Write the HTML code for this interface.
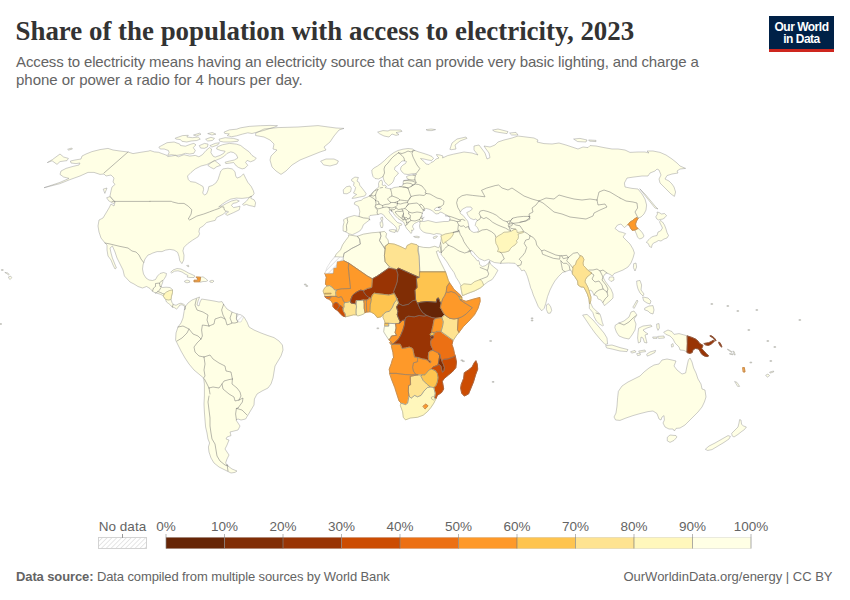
<!DOCTYPE html>
<html><head><meta charset="utf-8"><title>Share of the population with access to electricity, 2023</title>
<style>
html,body{margin:0;padding:0;background:#fff;}
body{width:850px;height:600px;position:relative;overflow:hidden;font-family:"Liberation Sans",sans-serif;}
#title{position:absolute;left:15.5px;top:15px;font-family:"Liberation Serif",serif;font-weight:bold;font-size:26.9px;line-height:32px;color:#333;white-space:nowrap;transform-origin:0 50%;}
.sub{position:absolute;left:16px;font-size:15px;line-height:19px;color:#646464;white-space:nowrap;transform-origin:0 50%;}
#logo{position:absolute;left:769px;top:16px;width:65px;height:33px;background:#002147;border-bottom:3px solid #ce261e;color:#fff;font-weight:bold;font-size:12px;line-height:12px;text-align:center;letter-spacing:-0.5px;}
#logo div{position:absolute;left:0;width:65px;}
.lg{position:absolute;font-size:13.5px;color:#646464;white-space:nowrap;top:518.5px;line-height:16px;transform:translateX(-50%);}
#foot1{position:absolute;left:16px;top:569px;font-size:13px;letter-spacing:-0.11px;line-height:16px;color:#646464;white-space:nowrap;}
#foot2{position:absolute;right:17.5px;top:569px;font-size:13px;line-height:16px;color:#646464;white-space:nowrap;}
svg{position:absolute;left:0;top:0;}
</style></head><body>
<div id="title">Share of the population with access to electricity, 2023</div>
<div class="sub" id="s1" style="top:52px;letter-spacing:-0.125px">Access to electricity means having an electricity source that can provide very basic lighting, and charge a</div>
<div class="sub" id="s2" style="top:70px;letter-spacing:-0.02px">phone or power a radio for 4 hours per day.</div>
<div id="logo"><div style="top:5px">Our World</div><div style="top:17px">in Data</div></div>
<svg width="850" height="600" viewBox="0 0 850 600">
<defs><pattern id="hatch" width="3.4" height="3.4" patternUnits="userSpaceOnUse" patternTransform="rotate(45)"><rect width="3.4" height="3.4" fill="#fff"/><line x1="0" y1="0" x2="0" y2="3.4" stroke="#dcdcdc" stroke-width="1.4"/></pattern></defs>
<g stroke-linejoin="round" stroke-linecap="round">
<path fill="#ffffe5" stroke="#8f8f8f" stroke-width="0.45" d="M44.4 187.6 L60.0 182.4 L69.0 178.4 L63.6 177.0 L60.0 174.4 L61.0 171.0 L66.0 168.4 L73.0 166.4 L79.0 165.0 L80.0 163.0 L76.0 163.6 L71.0 163.0 L70.4 161.0 L75.0 160.0 L81.0 159.0 L82.0 156.0 L86.0 154.0 L92.0 151.6 L100.0 149.6 L108.0 148.4 L113.0 150.0 L120.0 151.0 L128.0 152.0 L133.0 153.6 L140.0 152.4 L149.0 151.0 L150.0 150.5 L154.3 151.9 L158.5 152.3 L167.0 155.4 L167.7 156.6 L175.5 155.4 L178.3 156.8 L184.0 154.7 L189.7 156.1 L195.3 155.4 L198.9 156.8 L202.4 154.7 L206.0 150.5 L209.5 147.6 L211.6 149.0 L210.9 152.6 L213.0 156.1 L215.2 157.1 L220.1 155.4 L223.7 153.3 L225.1 151.2 L220.8 150.5 L216.6 149.0 L217.3 146.9 L222.3 144.8 L229.3 143.4 L236.4 144.1 L240.7 145.5 L244.2 148.3 L249.2 151.9 L252.0 155.4 L256.3 158.3 L254.1 160.4 L250.6 161.8 L247.1 160.4 L245.6 162.5 L247.8 165.3 L244.9 168.2 L242.1 168.9 L238.6 167.5 L236.4 166.0 L233.6 162.5 L229.3 163.2 L225.8 163.6 L225.1 162.2 L229.3 161.1 L234.3 160.0 L237.8 158.0 L236.4 154.7 L233.6 152.6 L230.8 151.9 L227.2 153.3 L224.4 156.1 L220.8 158.3 L216.6 160.0 L214.0 161.1 L210.9 162.5 L206.7 164.6 L201.0 166.0 L195.3 168.9 L191.1 172.4 L187.5 176.0 L188.3 179.5 L190.4 181.6 L195.3 182.3 L199.6 184.5 L203.1 186.6 L203.6 189.4 L202.7 193.0 L204.5 195.1 L206.7 193.7 L208.1 190.1 L208.8 186.6 L212.3 185.5 L215.9 183.0 L218.0 179.5 L219.4 175.3 L220.8 171.0 L223.0 168.9 L227.9 168.2 L232.2 168.9 L235.0 171.7 L235.7 176.0 L237.1 178.1 L240.7 176.7 L243.5 173.8 L245.6 178.1 L247.8 182.3 L251.3 186.6 L253.4 190.8 L254.1 193.7 L252.0 196.3 L247.8 197.7 L242.1 198.4 L236.4 198.1 L230.8 199.1 L226.5 201.3 L222.3 204.1 L218.7 206.9 L222.3 205.8 L226.5 203.4 L231.5 201.0 L236.4 199.8 L239.3 201.0 L236.4 202.7 L232.9 203.4 L231.5 205.5 L233.6 207.6 L237.1 206.9 L240.0 206.2 L239.3 209.8 L233.6 212.6 L227.2 215.4 L225.4 214.0 L228.6 211.9 L226.5 210.9 L223.7 214.0 L216.6 217.5 L215.2 220.4 L210.9 221.4 L206.7 222.5 L203.1 226.0 L199.6 228.2 L198.9 231.7 L199.6 233.8 L198.2 236.7 L192.5 240.2 L187.5 243.8 L184.0 247.3 L182.9 250.8 L184.0 255.1 L183.7 260.1 L181.9 263.6 L179.8 260.8 L179.0 256.5 L177.6 252.3 L174.1 250.1 L169.8 249.4 L165.6 250.1 L162.0 251.6 L157.1 251.6 L152.8 253.0 L150.0 254.4 L148.0 255.0 L145.0 259.0 L143.6 263.0 L143.0 265.0 L142.5 269.0 L143.5 274.0 L146.0 278.0 L149.0 280.0 L152.5 280.5 L155.5 279.5 L157.5 276.0 L160.0 273.5 L163.5 272.5 L166.5 273.5 L166.0 276.0 L164.5 278.5 L163.0 280.5 L162.5 283.0 L161.0 286.5 L162.5 287.5 L166.0 287.2 L170.0 287.5 L172.5 289.5 L172.5 292.5 L171.5 296.0 L171.0 299.5 L172.0 302.5 L173.5 304.5 L176.0 305.3 L178.7 303.8 L181.0 303.2 L183.7 304.3 L185.7 306.0 L184.5 310.0 L185.5 308.5 L184.5 306.2 L182.0 304.7 L179.7 305.2 L178.2 307.5 L176.5 309.0 L174.5 307.7 L172.0 307.0 L170.5 305.0 L168.5 303.5 L166.5 302.0 L165.5 299.5 L163.5 296.0 L161.0 294.5 L158.0 293.5 L155.0 292.8 L152.5 291.2 L150.0 288.5 L146.5 286.5 L142.5 288.0 L138.0 286.5 L134.0 284.0 L130.0 282.0 L124.4 276.0 L123.0 270.0 L120.0 264.0 L117.0 258.0 L115.0 252.0 L112.4 246.0 L110.0 248.0 L111.0 253.0 L112.4 258.0 L114.4 263.0 L116.4 268.0 L115.0 269.0 L113.0 265.0 L111.0 260.0 L108.0 256.0 L107.0 250.0 L107.0 245.0 L105.0 243.0 L101.0 238.0 L99.0 232.0 L98.0 226.0 L99.0 220.0 L103.0 218.0 L106.0 213.0 L109.0 208.0 L111.0 204.0 L114.0 206.0 L115.0 202.0 L112.0 199.0 L110.0 196.0 L111.0 191.0 L112.0 187.0 L115.0 184.4 L113.0 182.0 L114.0 178.0 L111.0 175.0 L106.0 176.0 L104.0 174.0 L100.0 174.4 L94.0 172.4 L88.0 172.4 L80.0 176.0 L70.0 179.6 L60.0 183.6 Z M159.2 146.9 L167.0 142.7 L174.1 142.0 L179.8 144.1 L180.5 145.5 L185.4 146.2 L191.1 144.1 L193.9 143.4 L196.0 144.8 L193.2 147.6 L195.3 150.5 L193.9 153.3 L189.7 154.0 L185.4 153.3 L181.2 154.7 L176.9 155.4 L171.3 154.7 L167.7 155.4 L169.1 152.6 L168.4 150.5 L164.2 149.0 L160.6 149.0 Z M175.5 138.1 L182.6 135.6 L188.3 135.3 L186.8 137.0 L192.5 137.7 L198.2 137.0 L200.3 139.1 L196.8 140.5 L191.1 141.0 L186.8 142.0 L181.9 141.3 L180.5 139.6 L176.2 139.1 Z M193.9 134.9 L199.6 133.2 L201.0 134.2 L196.8 135.9 Z M206.0 139.1 L210.9 137.3 L214.5 138.4 L212.3 140.5 L208.1 141.0 Z M208.1 133.5 L212.3 132.5 L215.9 134.2 L212.3 134.9 Z M199.6 145.5 L204.5 143.4 L208.1 144.1 L207.4 146.9 L204.5 148.3 L201.0 148.1 Z M210.2 145.5 L215.2 143.4 L219.4 142.7 L218.0 144.8 L212.3 146.9 Z M219.4 139.1 L225.1 137.7 L233.6 138.4 L238.6 139.8 L237.8 141.3 L230.8 142.0 L223.7 142.0 L220.1 141.3 Z M224.4 132.0 L229.3 129.9 L236.4 129.2 L240.7 127.8 L249.2 126.4 L260.5 125.7 L270.0 125.4 L277.5 125.7 L274.7 127.1 L270.0 128.5 L263.3 130.6 L257.7 132.0 L252.0 133.5 L247.8 132.8 L242.1 134.2 L236.4 135.9 L231.5 136.7 L227.2 135.6 L229.3 133.9 L225.1 133.5 Z M208.1 165.1 L212.3 161.8 L214.5 160.4 L217.3 162.5 L220.6 165.3 L216.6 166.8 L213.8 168.9 L210.9 167.5 Z M47.6 162.4 L52.4 159.6 L60.0 154.0 L63.6 157.0 L68.4 158.4 L67.0 160.6 L60.0 161.6 L57.0 164.4 L52.4 161.0 Z M68.0 149.2 L71.6 148.0 L72.4 149.0 L69.0 150.0 Z M103.6 189.0 L107.0 188.0 L105.0 193.0 Z M107.0 197.6 L110.0 196.6 L115.0 201.6 L113.6 203.6 L109.0 201.0 Z M256.0 133.0 L264.0 129.0 L278.0 127.6 L298.0 127.0 L318.0 125.6 L336.0 128.0 L344.0 128.4 L339.0 130.0 L334.0 136.0 L330.0 142.0 L324.0 147.0 L326.0 150.0 L320.0 152.0 L310.0 156.0 L300.0 160.0 L292.0 165.0 L286.0 171.0 L281.0 174.4 L276.0 171.0 L272.0 167.0 L270.0 160.0 L271.0 156.0 L274.0 153.0 L277.0 150.0 L273.0 149.0 L274.0 144.0 L270.0 140.0 L264.0 137.0 L256.0 135.6 Z M321.0 161.0 L326.0 159.0 L334.0 159.0 L338.4 161.0 L337.0 164.0 L330.0 166.0 L324.0 165.0 Z M242.8 204.1 L246.3 201.3 L249.2 197.7 L251.3 195.9 L250.9 198.4 L254.1 199.8 L255.6 202.7 L254.8 206.9 L252.7 206.2 L249.2 205.5 L246.3 204.4 L244.2 205.2 Z M171.0 272.0 L173.0 270.0 L177.0 268.5 L181.0 269.0 L185.0 271.0 L188.5 273.0 L192.0 274.5 L195.0 276.0 L194.0 277.5 L190.0 277.5 L187.0 277.0 L188.0 275.5 L185.0 274.0 L182.0 272.0 L178.0 270.8 L174.5 271.2 L172.0 272.8 Z M200.5 277.2 L203.0 276.8 L205.5 278.5 L207.8 280.5 L206.0 281.5 L203.0 281.5 L200.5 282.2 L199.7 281.8 L200.2 279.5 Z M184.8 281.0 L187.0 280.0 L189.5 280.8 L189.8 282.2 L187.0 282.8 L185.2 282.2 Z M210.0 281.0 L212.0 280.2 L214.0 281.0 L212.5 282.5 L210.5 282.2 Z M187.0 265.5 L188.5 265.2 L188.8 266.8 L187.8 266.5 Z M185.0 307.0 L188.0 303.0 L192.0 300.0 L197.0 298.0 L199.6 297.0 L198.0 301.0 L197.0 305.0 L199.0 306.0 L200.0 302.0 L201.6 299.0 L208.0 300.0 L214.0 301.0 L219.0 302.0 L222.0 301.6 L224.0 305.0 L227.0 309.0 L232.0 312.0 L237.0 314.0 L241.0 315.0 L244.0 317.0 L247.0 322.0 L249.0 327.0 L254.0 330.0 L261.0 333.0 L268.0 335.6 L274.0 337.6 L279.0 341.0 L282.4 345.0 L283.0 350.0 L281.0 356.0 L278.0 361.0 L275.0 366.0 L274.0 372.0 L273.0 378.0 L271.0 384.0 L268.0 388.0 L262.0 391.0 L257.0 394.0 L254.4 399.0 L254.0 405.0 L251.0 410.0 L248.0 415.0 L245.6 419.0 L241.0 420.0 L238.0 419.0 L236.0 420.0 L238.0 423.0 L240.0 426.0 L238.0 430.0 L234.0 431.0 L230.0 432.0 L231.0 435.6 L227.0 437.0 L226.0 439.0 L229.0 440.0 L227.0 445.0 L225.0 449.0 L227.0 452.0 L229.0 455.0 L227.0 459.0 L225.6 463.0 L228.0 466.0 L232.0 469.0 L237.0 471.0 L235.0 472.4 L231.0 473.0 L225.0 470.0 L219.0 467.0 L214.0 463.0 L211.0 458.0 L209.0 452.0 L208.4 447.0 L209.6 443.0 L208.0 439.0 L207.0 433.0 L205.6 427.0 L205.0 420.0 L204.4 412.0 L204.0 404.0 L204.4 396.0 L204.4 384.0 L203.6 378.0 L200.0 375.0 L194.0 370.0 L189.0 364.0 L185.0 358.0 L181.0 351.0 L178.0 345.0 L175.6 340.0 L176.0 333.0 L178.0 327.0 L181.0 323.0 L183.0 318.0 L184.0 312.0 Z M352.0 234.6 L349.2 233.9 L345.7 231.8 L343.1 231.0 L343.1 226.1 L344.0 222.5 L343.5 219.7 L347.1 217.6 L354.2 215.5 L359.1 216.5 L359.8 211.2 L358.4 206.3 L354.2 204.1 L354.9 202.0 L358.4 200.9 L361.3 200.3 L363.4 198.5 L367.6 197.0 L369.8 195.6 L373.3 191.7 L375.0 190.0 L377.5 188.0 L378.8 187.0 L378.5 183.5 L379.5 181.0 L381.5 180.0 L382.5 182.0 L382.2 185.0 L383.5 185.5 L385.0 185.0 L386.5 186.5 L385.0 187.5 L388.5 188.5 L391.0 189.0 L394.0 187.5 L398.0 187.0 L401.5 186.5 L403.5 184.0 L403.0 182.0 L404.0 180.5 L406.5 180.0 L409.0 179.5 L407.0 178.5 L406.5 176.5 L409.0 175.5 L413.0 175.0 L416.5 174.5 L416.0 173.5 L412.0 173.8 L408.0 174.5 L404.5 174.0 L402.0 172.0 L400.5 169.5 L401.0 167.0 L403.0 165.0 L405.5 163.5 L406.5 161.5 L404.5 160.8 L402.0 161.0 L400.0 163.0 L397.5 165.5 L395.0 167.0 L394.5 169.5 L396.0 171.0 L398.5 173.0 L397.0 175.0 L394.5 177.5 L394.0 179.5 L393.0 182.0 L391.0 184.0 L388.5 185.5 L386.5 184.0 L384.5 181.5 L383.5 179.0 L383.0 176.5 L381.5 177.5 L378.5 179.0 L375.0 178.5 L373.0 176.5 L372.0 173.0 L371.8 170.0 L374.0 168.0 L377.5 166.0 L381.0 163.5 L384.5 160.5 L387.5 157.5 L390.5 155.0 L394.0 152.5 L398.0 150.5 L403.0 149.2 L408.0 148.5 L412.5 149.0 L414.8 150.5 L419.0 152.0 L424.0 153.5 L428.5 155.0 L432.0 156.5 L433.5 158.5 L431.5 160.5 L428.0 160.0 L424.0 159.0 L420.5 158.5 L422.0 160.0 L424.0 161.5 L426.0 164.0 L429.0 164.5 L431.0 162.5 L433.5 161.5 L436.0 159.0 L439.0 158.0 L437.0 156.0 L436.5 154.5 L440.0 155.0 L443.0 156.0 L442.5 158.0 L447.7 155.6 L453.3 154.2 L464.0 152.0 L472.0 153.0 L478.0 155.0 L474.0 150.0 L474.0 146.0 L479.0 145.0 L482.0 149.0 L485.0 153.0 L487.0 159.0 L490.0 157.6 L489.0 153.0 L486.0 149.0 L484.0 146.0 L490.0 147.0 L495.0 145.0 L498.0 142.0 L504.0 140.0 L512.0 138.0 L518.0 136.0 L526.0 137.0 L534.0 138.0 L538.0 140.0 L537.0 142.0 L544.0 143.6 L552.0 144.0 L559.0 143.0 L566.0 145.0 L572.0 147.0 L578.0 149.0 L583.0 147.0 L588.0 147.6 L590.0 145.6 L596.0 146.0 L604.0 147.6 L612.0 149.0 L618.0 149.0 L625.0 150.0 L630.0 152.4 L638.0 152.0 L645.0 152.0 L649.0 153.0 L647.0 151.0 L653.0 151.0 L660.0 152.4 L666.0 155.0 L672.0 159.0 L677.0 163.0 L680.0 166.0 L685.6 168.4 L680.0 169.0 L677.0 171.0 L678.0 173.0 L672.0 174.0 L667.0 175.6 L665.0 179.0 L669.0 181.0 L672.0 184.0 L674.0 187.0 L675.6 192.0 L674.4 196.4 L671.0 194.0 L667.0 190.0 L663.0 186.0 L660.0 183.0 L659.0 179.0 L661.0 175.0 L659.0 170.0 L657.0 169.0 L655.0 171.0 L650.0 173.0 L648.0 176.0 L642.0 176.0 L634.0 177.0 L627.0 178.0 L624.4 183.0 L625.0 187.0 L632.0 188.4 L638.0 189.0 L642.0 194.0 L645.0 199.0 L646.6 205.0 L646.0 210.0 L644.0 214.0 L641.0 217.0 L638.0 218.0 L638.0 218.5 L636.5 221.0 L635.5 224.0 L636.0 226.5 L638.0 228.5 L640.0 230.0 L642.5 233.0 L644.0 236.0 L642.5 238.0 L639.5 239.0 L637.5 237.0 L636.5 234.0 L635.5 232.0 L635.0 230.0 L632.0 230.2 L630.5 228.0 L629.5 225.5 L628.0 224.5 L624.4 227.6 L621.0 224.0 L617.6 225.0 L615.0 228.4 L619.0 231.6 L622.4 232.4 L625.6 233.6 L623.0 237.0 L626.0 240.0 L630.0 244.0 L633.0 249.0 L634.4 253.0 L633.0 258.0 L631.0 263.0 L628.0 267.0 L623.0 270.0 L618.0 272.0 L614.0 273.6 L612.4 276.0 L610.0 274.4 L607.0 273.0 L605.0 274.0 L603.0 277.0 L605.0 281.0 L608.0 285.0 L611.0 289.0 L613.0 294.0 L613.0 298.0 L610.0 301.0 L606.4 304.0 L604.4 305.6 L603.0 303.0 L601.0 300.0 L598.0 299.0 L597.0 296.0 L594.0 295.0 L592.0 291.0 L590.0 290.0 L588.0 292.0 L588.4 296.0 L590.7 303.3 L592.8 307.5 L596.3 311.1 L599.9 313.9 L601.3 318.2 L602.3 322.4 L603.4 325.3 L602.7 326.0 L599.2 323.8 L596.3 321.0 L594.2 316.8 L592.8 312.5 L589.3 308.3 L589.4 304.0 L589.0 299.0 L587.4 294.0 L585.4 290.0 L583.6 287.0 L581.0 287.0 L578.0 285.0 L577.6 281.0 L575.0 277.0 L572.4 273.6 L570.8 270.0 L570.0 270.0 L567.5 270.8 L565.0 271.7 L562.5 272.5 L558.3 276.7 L555.0 280.8 L552.5 285.0 L550.0 290.0 L547.5 296.7 L545.8 303.3 L544.2 308.3 L541.7 310.8 L538.3 306.7 L535.8 300.8 L533.3 295.0 L531.7 290.0 L530.8 288.3 L529.2 282.5 L527.5 276.7 L525.8 272.5 L524.2 270.0 L521.7 270.8 L520.0 268.3 L517.5 265.8 L515.0 263.3 L508.3 263.0 L500.8 263.3 L494.3 262.5 L490.1 260.4 L488.7 259.4 L484.4 260.8 L479.5 258.7 L475.9 255.2 L473.1 251.6 L471.0 250.5 L470.3 251.9 L471.7 254.5 L474.5 257.3 L477.3 260.8 L478.5 260.4 L479.5 262.5 L479.5 264.4 L482.3 266.5 L485.1 265.8 L488.0 263.7 L489.8 261.6 L490.4 264.0 L493.6 266.8 L497.9 270.3 L495.1 275.3 L492.2 279.5 L488.0 281.7 L484.4 284.5 L483.7 285.2 L480.2 288.0 L474.5 290.9 L468.8 293.0 L462.5 295.6 L461.5 290.9 L461.0 285.9 L458.9 281.7 L456.1 277.4 L454.0 272.5 L450.4 267.5 L446.9 261.8 L443.3 256.9 L441.2 254.8 L441.2 252.6 L440.2 249.8 L439.1 247.4 L439.0 248.0 L439.5 246.0 L440.5 243.0 L441.0 240.0 L441.5 237.0 L442.0 235.0 L440.0 234.0 L436.5 233.5 L434.0 234.5 L430.0 233.5 L426.0 233.0 L423.5 232.0 L421.5 230.5 L420.0 228.5 L419.5 226.0 L420.0 223.5 L419.5 222.5 L421.0 221.5 L418.5 221.5 L416.5 222.5 L414.5 223.5 L413.0 225.0 L412.5 227.0 L414.0 229.0 L413.0 230.5 L411.5 230.0 L412.0 232.0 L411.0 233.5 L409.0 231.0 L407.0 229.0 L405.5 226.5 L404.5 224.0 L403.5 222.0 L401.0 220.5 L398.0 218.5 L395.5 216.0 L393.5 213.5 L392.5 211.5 L391.5 210.5 L390.0 210.0 L389.0 211.5 L390.0 213.5 L391.5 215.5 L393.5 218.0 L395.5 220.5 L397.5 222.5 L399.5 223.2 L401.2 223.5 L402.0 224.8 L400.5 225.5 L399.0 226.0 L399.5 228.0 L398.5 230.0 L397.5 232.0 L396.2 231.5 L396.8 229.0 L395.8 226.8 L393.5 224.5 L390.5 222.0 L387.5 219.5 L385.0 217.0 L383.5 214.8 L381.0 213.5 L378.0 214.5 L374.0 215.0 L370.0 215.5 L369.0 216.9 L369.8 219.7 L366.2 222.5 L363.4 224.7 L362.0 228.2 L359.8 231.0 L355.6 233.2 Z M352.0 179.0 L354.9 177.1 L358.4 177.5 L357.0 181.1 L359.1 182.5 L359.8 185.3 L362.7 188.9 L364.8 191.7 L366.2 193.8 L364.8 196.0 L359.8 197.0 L354.9 198.1 L352.0 198.4 L354.2 196.0 L356.7 194.5 L353.5 193.1 L354.9 190.3 L355.6 187.5 L353.5 185.3 L354.2 182.5 L352.0 181.1 Z M343.5 189.6 L346.4 186.8 L349.9 186.0 L351.3 188.2 L350.6 191.7 L347.1 193.8 L344.0 193.6 Z M389.5 230.0 L392.5 229.5 L396.0 230.0 L395.0 232.5 L392.5 232.0 L390.0 231.2 Z M380.5 222.0 L382.5 221.5 L383.0 225.0 L382.5 227.5 L381.0 227.5 L380.3 225.0 Z M381.2 217.5 L382.5 217.0 L382.8 220.0 L381.8 221.0 L381.0 219.5 Z M414.0 236.5 L417.0 236.2 L419.5 236.8 L419.0 237.8 L415.5 237.5 Z M433.5 237.0 L436.0 236.0 L437.5 236.2 L436.0 238.0 L434.0 238.5 Z M450.0 149.0 L452.0 143.0 L457.0 139.0 L466.0 137.0 L467.0 138.4 L460.0 141.0 L455.0 145.0 L456.0 149.0 L452.0 149.6 Z M493.0 130.0 L498.0 129.0 L508.0 131.6 L507.0 133.6 L499.0 132.4 L495.0 131.6 Z M510.0 133.0 L516.0 132.4 L518.0 135.0 L512.0 135.0 Z M574.0 139.0 L580.0 138.4 L587.0 140.0 L586.0 142.0 L578.0 141.6 Z M589.0 140.0 L596.0 140.4 L596.0 141.6 L590.0 141.2 Z M640.0 189.0 L645.0 194.0 L650.0 200.0 L655.0 206.0 L658.0 209.0 L655.0 208.0 L651.0 203.0 L647.0 198.0 L643.0 193.0 Z M656.0 216.5 L657.5 214.0 L657.0 212.0 L659.0 212.5 L661.5 214.0 L664.5 213.5 L666.5 215.5 L665.0 217.5 L663.0 219.0 L660.0 219.5 L658.5 220.0 L657.0 219.0 Z M646.5 242.0 L649.0 239.5 L651.5 237.0 L654.5 236.0 L657.0 235.5 L658.0 232.0 L660.5 231.0 L662.5 228.0 L661.0 225.0 L659.5 222.0 L660.5 220.5 L662.5 222.0 L664.5 225.0 L666.0 229.0 L667.0 232.5 L668.5 235.5 L667.0 238.0 L664.0 239.0 L661.0 241.0 L658.5 240.5 L656.0 242.0 L653.5 243.0 L652.0 245.0 L651.5 247.5 L649.5 246.5 L648.5 244.0 Z M610.0 277.0 L613.6 277.0 L614.0 280.0 L611.0 281.6 L609.0 279.6 Z M634.0 263.6 L636.0 263.0 L636.6 267.0 L635.0 271.0 L633.6 268.0 Z M637.0 281.0 L640.0 280.4 L641.6 285.0 L641.0 290.0 L644.0 294.0 L643.0 296.0 L640.0 293.0 L638.0 289.0 L637.0 285.0 Z M643.0 297.0 L648.0 298.0 L651.0 301.0 L650.0 304.0 L647.0 303.0 L644.0 301.0 Z M645.0 308.0 L649.0 306.0 L653.0 305.6 L654.0 310.0 L653.0 314.0 L650.0 313.0 L648.0 311.0 L645.0 310.0 Z M633.0 307.0 L637.0 300.0 L638.0 301.0 L634.4 308.0 Z M583.0 315.0 L587.0 314.4 L593.0 320.0 L599.0 327.0 L604.0 333.0 L607.0 338.0 L607.6 344.0 L605.0 344.4 L600.0 339.0 L595.0 333.0 L590.0 326.0 L586.0 320.0 Z M606.0 345.6 L612.0 345.0 L620.0 347.6 L628.0 349.6 L627.0 351.6 L620.0 351.0 L612.0 349.0 L607.0 348.0 Z M631.0 351.6 L635.0 350.4 L636.0 352.0 L632.0 353.0 Z M637.0 353.6 L640.0 353.0 L640.4 355.0 L638.0 355.6 Z M639.0 351.0 L645.0 350.0 L645.6 351.6 L640.0 352.4 Z M647.0 354.0 L650.0 352.0 L655.6 350.4 L655.0 352.4 L650.0 355.0 L647.6 356.0 Z M615.6 325.0 L619.0 323.0 L624.0 321.0 L629.0 317.0 L631.0 312.0 L634.0 311.0 L637.0 315.0 L634.0 319.0 L636.0 324.0 L635.0 330.0 L632.0 335.0 L629.0 339.0 L624.0 338.0 L619.0 336.0 L616.4 332.0 L615.0 328.0 Z M639.0 328.0 L643.0 326.0 L651.0 325.0 L652.0 326.4 L647.0 328.0 L643.0 330.0 L645.0 332.0 L648.0 334.0 L645.0 335.0 L646.0 339.0 L647.0 343.0 L644.4 342.4 L643.0 338.0 L641.0 337.0 L640.4 342.0 L638.4 343.0 L637.6 338.0 L638.0 333.0 Z M657.0 324.0 L659.0 323.6 L659.4 328.0 L658.0 330.4 L657.0 328.0 Z M653.0 337.0 L657.0 337.0 L657.0 338.4 L653.6 338.4 Z M658.0 336.4 L664.0 336.0 L664.4 338.0 L659.0 338.4 Z M671.6 344.4 L673.0 343.6 L673.4 346.4 L672.0 347.0 Z M664.0 332.0 L668.0 330.0 L672.0 331.6 L674.0 334.4 L679.0 333.6 L688.0 336.0 L687.0 352.0 L684.0 350.4 L680.0 350.0 L679.0 347.0 L675.0 343.0 L673.0 339.0 L670.0 336.0 L666.0 334.4 Z M735.0 381.6 L737.0 382.4 L739.6 386.4 L738.0 386.4 Z M546.8 304.7 L548.5 303.7 L550.7 306.8 L551.7 310.4 L550.3 313.2 L547.9 313.2 L546.5 309.7 Z M667.6 437.0 L670.0 435.0 L676.0 435.6 L677.0 437.0 L674.0 440.4 L670.0 442.4 L667.6 441.0 Z M732.0 433.0 L735.0 430.0 L738.0 427.0 L739.0 423.0 L739.6 419.6 L741.0 420.0 L741.6 424.4 L743.6 426.0 L746.4 427.0 L744.4 429.6 L741.0 432.0 L738.0 434.4 L734.0 437.0 L732.4 436.0 Z M705.6 449.0 L709.0 446.0 L715.0 443.0 L722.0 439.0 L728.0 435.6 L730.4 436.4 L729.0 439.0 L724.0 442.4 L718.0 446.0 L712.0 449.6 L708.0 450.4 Z M618.6 391.0 L622.0 386.0 L628.0 382.0 L634.0 379.0 L640.0 376.0 L644.0 372.0 L649.0 368.0 L654.0 365.0 L659.0 364.0 L662.0 360.0 L667.0 359.0 L672.0 360.0 L676.0 361.0 L674.0 366.0 L677.0 370.0 L682.0 374.0 L685.6 373.0 L687.0 366.0 L688.4 360.0 L690.0 358.0 L692.0 362.0 L693.6 368.0 L696.0 373.0 L698.0 379.0 L701.0 384.0 L702.0 389.0 L705.0 390.0 L706.0 397.0 L704.4 402.0 L702.0 407.0 L698.0 412.0 L693.0 417.0 L689.0 421.0 L685.0 425.0 L680.0 428.0 L676.0 428.4 L674.4 431.0 L673.0 429.0 L669.0 429.0 L665.0 427.0 L663.0 423.0 L664.4 420.0 L664.0 415.6 L662.0 417.0 L661.0 420.0 L659.0 419.0 L657.0 413.6 L653.0 411.0 L648.0 411.6 L640.0 413.6 L633.0 415.6 L626.0 418.0 L620.0 420.4 L615.6 420.0 L614.0 417.0 L616.0 413.0 L617.0 406.0 L617.6 398.0 Z M378.0 132.0 L383.0 130.6 L388.0 131.0 L390.0 130.0 L401.0 130.0 L402.0 131.4 L396.0 132.6 L399.0 134.6 L396.0 135.4 L392.0 134.0 L389.0 137.0 L384.0 136.0 L380.0 134.0 Z M426.4 129.6 L431.0 129.0 L435.6 129.6 L432.0 130.6 L428.0 130.6 Z M9.0 276.7 L10.8 276.2 L11.7 277.7 L10.2 279.5 L9.0 278.5 Z M5.2 272.5 L7.5 272.9 L9.3 274.4 L8.7 274.9 L6.9 273.7 Z M766.0 375.0 L768.0 374.0 L769.6 375.6 L767.6 377.0 Z M770.0 372.0 L773.6 371.0 L773.6 372.0 L770.4 373.0 Z M728.0 349.2 L732.0 351.8 L731.6 352.4 L727.8 349.8 Z M730.0 353.6 L733.0 354.0 L732.8 354.8 L730.0 354.2 Z M733.2 351.2 L734.2 351.6 L735.2 355.0 L734.4 354.8 Z M461.3 359.9 L462.7 359.9 L462.7 360.7 L461.3 360.7 Z M462.9 360.8 L464.3 360.8 L464.3 361.6 L462.9 361.6 Z M492.6 381.5 L494.0 381.5 L494.0 382.3 L492.6 382.3 Z M490.1 340.6 L491.5 340.6 L491.5 341.4 L490.1 341.4 Z M531.6 317.9 L533.0 317.9 L533.0 318.7 L531.6 318.7 Z M531.6 320.1 L533.0 320.1 L533.0 320.9 L531.6 320.9 Z M304.8 284.1 L306.2 284.1 L306.2 284.9 L304.8 284.9 Z M306.3 285.6 L307.7 285.6 L307.7 286.4 L306.3 286.4 Z M377.3 327.9 L378.7 327.9 L378.7 328.7 L377.3 328.7 Z M0.1 323.6 L1.5 323.6 L1.5 324.4 L0.1 324.4 Z M1.8 269.6 L3.2 269.6 L3.2 270.4 L1.8 270.4 Z M750.3 362.1 L751.7 362.1 L751.7 362.9 L750.3 362.9 Z M767.3 340.6 L768.7 340.6 L768.7 341.4 L767.3 341.4 Z M774.3 346.6 L775.7 346.6 L775.7 347.4 L774.3 347.4 Z M770.3 360.6 L771.7 360.6 L771.7 361.4 L770.3 361.4 Z M711.3 303.6 L712.7 303.6 L712.7 304.4 L711.3 304.4 Z M727.3 305.6 L728.7 305.6 L728.7 306.4 L727.3 306.4 Z M737.3 310.6 L738.7 310.6 L738.7 311.4 L737.3 311.4 Z M756.3 309.6 L757.7 309.6 L757.7 310.4 L756.3 310.4 Z M799.3 319.6 L800.7 319.6 L800.7 320.4 L799.3 320.4 Z M748.3 329.6 L749.7 329.6 L749.7 330.4 L748.3 330.4 Z"/>
<path fill="#fff" stroke="#8f8f8f" stroke-width="0.45" d="M424.0 210.0 L422.5 212.5 L421.8 215.0 L422.0 217.5 L423.0 220.0 L421.2 221.4 L424.0 221.5 L428.0 220.5 L432.0 221.5 L436.0 222.5 L440.0 222.0 L444.0 221.5 L448.0 221.5 L450.0 220.5 L450.0 217.5 L447.5 215.5 L444.5 214.0 L442.0 212.5 L440.0 212.0 L439.0 213.5 L436.0 214.0 L434.5 212.8 L432.5 211.0 L430.0 209.5 L426.5 208.5 Z"/>
<path fill="#fff" stroke="#8f8f8f" stroke-width="0.45" d="M434.5 209.0 L436.5 207.5 L439.5 207.0 L441.5 208.5 L440.0 210.0 L438.0 210.5 L435.5 210.5 Z"/>
<path fill="#fff" stroke="#8f8f8f" stroke-width="0.45" d="M460.3 211.9 L462.5 209.1 L466.7 207.0 L471.0 207.0 L472.4 209.1 L469.5 211.2 L466.7 212.6 L468.1 215.5 L470.3 218.3 L473.8 219.7 L475.9 219.0 L477.3 220.4 L475.9 222.5 L475.2 225.4 L477.3 227.5 L478.8 230.3 L477.3 232.0 L473.8 232.5 L471.0 231.0 L468.8 228.2 L468.6 224.7 L467.7 221.1 L465.3 218.3 L463.2 215.5 L461.0 214.0 Z"/>
<path fill="#fe9929" stroke="#fe9929" stroke-width="0.9" d="M196.5 277.0 L200.5 277.2 L200.2 279.5 L199.7 281.8 L194.0 281.8 L194.0 280.2 L197.5 280.2 L198.0 278.8 L196.8 278.0 Z"/>
<path fill="#fff7bc" stroke="#fff7bc" stroke-width="0.9" d="M163.5 296.0 L164.0 294.0 L166.5 292.0 L169.5 290.5 L172.5 290.0 L172.5 292.5 L171.5 296.0 L171.0 299.5 L168.5 300.0 L166.0 299.5 Z"/>
<path fill="#ffffe5" stroke="#ffffe5" stroke-width="0.9" d="M349.0 234.9 L357.5 236.3 L359.6 239.2 L360.3 244.1 L356.1 246.3 L351.8 248.4 L347.6 251.2 L344.0 253.3 L343.3 257.3 L334.8 256.9 L336.3 254.0 L340.5 249.8 L342.6 244.8 L345.5 240.6 L348.3 237.0 Z"/>
<path fill="#ffffe5" stroke="#ffffe5" stroke-width="0.9" d="M357.5 236.3 L363.2 234.2 L371.7 232.8 L380.2 232.1 L380.9 236.3 L379.5 240.6 L382.3 244.8 L385.1 249.1 L384.4 255.5 L385.1 261.8 L389.4 266.8 L388.7 268.2 L377.3 276.0 L372.4 278.8 L367.4 276.0 L349.0 263.3 L343.3 260.4 L343.3 257.3 L344.0 253.3 L347.6 251.2 L351.8 248.4 L356.1 246.3 L360.3 244.1 L359.6 239.2 Z"/>
<path fill="#ffffe5" stroke="#ffffe5" stroke-width="0.9" d="M380.2 232.1 L384.4 231.4 L386.6 233.5 L385.8 237.0 L388.0 239.9 L388.7 243.4 L385.1 246.3 L385.1 249.1 L382.3 244.8 L379.5 240.6 L380.9 236.3 Z"/>
<path fill="#fee391" stroke="#fee391" stroke-width="0.9" d="M385.1 246.3 L388.7 243.4 L394.3 244.1 L400.0 246.3 L405.7 249.1 L407.1 245.5 L411.3 243.4 L417.0 244.8 L418.4 246.3 L417.7 250.5 L419.1 256.2 L419.8 271.8 L419.1 277.4 L398.6 268.2 L396.5 269.6 L389.4 266.8 L385.1 261.8 L384.4 255.5 L385.1 249.1 Z"/>
<path fill="#ffffe5" stroke="#ffffe5" stroke-width="0.9" d="M418.4 246.3 L423.5 247.4 L429.2 247.7 L434.8 246.3 L438.4 247.7 L440.2 246.3 L441.2 251.2 L439.8 252.6 L438.4 250.5 L436.3 251.6 L438.4 257.6 L441.2 263.3 L444.0 268.9 L445.5 271.8 L419.8 271.8 L419.1 256.2 Z"/>
<path fill="#fec44f" stroke="#fec44f" stroke-width="0.9" d="M419.8 271.8 L445.5 271.8 L446.9 276.0 L448.3 280.3 L449.7 283.1 L446.9 286.6 L446.2 291.6 L444.8 295.1 L442.6 298.7 L441.2 303.6 L439.8 301.5 L438.4 298.0 L437.0 298.7 L436.3 302.2 L427.0 301.5 L420.7 302.2 L417.7 303.5 L415.7 300.2 L415.0 290.2 L417.1 287.3 L416.4 278.1 L419.3 277.4 Z"/>
<path fill="#662506" stroke="#662506" stroke-width="0.9" d="M420.7 302.2 L427.0 301.5 L436.3 302.2 L437.0 298.6 L438.4 297.9 L439.8 301.5 L441.2 303.6 L440.5 307.7 L443.3 312.7 L444.8 314.8 L441.9 317.6 L436.3 318.3 L432.0 317.6 L426.9 315.5 L422.7 312.7 L419.8 308.4 L417.7 303.5 Z"/>
<path fill="#802d05" stroke="#802d05" stroke-width="0.9" d="M396.5 269.6 L398.6 268.2 L419.1 277.4 L416.3 278.1 L417.0 287.3 L414.9 290.2 L415.6 300.0 L412.8 300.7 L408.5 304.2 L402.8 305.6 L398.6 303.5 L397.2 299.2 L396.5 297.8 L394.3 293.6 L393.6 291.6 L395.8 285.9 L397.2 281.7 L397.9 274.6 Z"/>
<path fill="#993404" stroke="#993404" stroke-width="0.9" d="M371.7 287.3 L372.4 278.8 L377.3 276.0 L388.7 268.2 L396.5 269.6 L397.9 274.6 L397.2 281.7 L395.8 285.9 L393.6 291.6 L394.3 293.6 L388.7 295.0 L383.0 294.3 L375.9 293.6 L374.5 293.1 L372.4 294.8 L371.1 298.5 L369.4 297.6 L368.1 296.9 L366.0 295.2 L364.2 292.7 L363.2 290.6 L364.6 289.9 L367.4 288.5 Z"/>
<path fill="#fe9929" stroke="#fe9929" stroke-width="0.9" d="M349.0 263.3 L367.4 276.0 L372.4 278.8 L371.7 287.3 L367.4 288.5 L364.6 289.9 L363.2 290.6 L360.4 290.2 L357.5 291.6 L354.7 293.4 L352.6 295.2 L351.2 298.4 L350.5 301.0 L349.1 301.9 L346.9 302.4 L344.5 302.6 L343.4 300.8 L342.4 298.5 L341.3 296.6 L338.5 297.5 L336.0 296.4 L335.6 292.4 L336.5 289.9 L341.3 288.8 L350.5 288.5 L348.3 267.5 Z"/>
<path fill="#fe9929" stroke="#fe9929" stroke-width="0.9" d="M333.1 273.2 L333.4 268.2 L336.3 267.5 L337.0 261.6 L343.3 260.4 L349.0 263.3 L348.3 267.5 L350.5 288.5 L341.3 288.8 L336.5 289.9 L334.6 289.9 L332.1 287.1 L329.6 285.6 L327.2 286.0 L325.4 284.2 L325.8 280.0 L326.3 277.4 L324.9 273.5 Z"/>
<path fill="#fee391" stroke="#fee391" stroke-width="0.9" d="M323.3 290.6 L324.7 287.8 L327.2 286.0 L329.6 285.6 L332.1 287.1 L334.6 289.9 L336.5 289.9 L335.6 292.4 L336.0 296.4 L331.1 296.4 L325.1 296.6 L324.5 294.8 L323.6 292.7 Z"/>
<path fill="#fec44f" stroke="#fec44f" stroke-width="0.9" d="M325.1 293.3 L331.1 293.2 L331.1 293.9 L325.1 294.0 Z"/>
<path fill="#ec7014" stroke="#ec7014" stroke-width="0.9" d="M325.1 296.6 L331.1 296.4 L330.7 298.0 L328.9 299.1 L326.8 298.5 Z"/>
<path fill="#fe9929" stroke="#fe9929" stroke-width="0.9" d="M331.1 296.4 L336.0 296.4 L338.5 297.5 L341.3 296.6 L342.4 298.5 L343.4 300.8 L344.5 302.6 L344.0 304.4 L344.0 307.2 L343.1 308.6 L342.0 306.8 L340.6 305.6 L339.2 306.5 L338.8 304.4 L337.1 302.6 L334.9 302.6 L333.2 304.4 L331.8 301.9 L330.0 300.1 L328.9 299.1 L330.7 298.0 Z"/>
<path fill="#cc4c02" stroke="#cc4c02" stroke-width="0.9" d="M333.2 304.4 L334.9 302.6 L337.1 302.6 L338.8 304.4 L339.2 306.5 L338.1 308.2 L336.7 310.0 L334.9 308.9 L333.2 306.8 Z"/>
<path fill="#cc4c02" stroke="#cc4c02" stroke-width="0.9" d="M339.2 306.5 L340.6 305.6 L342.0 306.8 L343.1 308.6 L343.4 311.1 L345.2 313.9 L345.5 316.8 L342.7 316.0 L339.9 313.2 L338.1 311.1 L336.7 310.0 L338.1 308.2 Z"/>
<path fill="#fee391" stroke="#fee391" stroke-width="0.9" d="M344.0 304.4 L344.5 302.6 L346.9 302.4 L349.1 301.9 L350.5 301.0 L350.8 302.9 L352.2 303.3 L354.7 303.6 L356.1 304.0 L356.5 306.8 L356.1 309.6 L356.0 313.2 L356.5 314.9 L353.3 314.9 L349.1 316.0 L345.5 316.8 L345.2 313.9 L343.4 311.1 L343.1 308.6 L344.0 307.2 Z"/>
<path fill="#993404" stroke="#993404" stroke-width="0.9" d="M351.2 298.4 L352.6 295.2 L354.7 293.4 L357.5 291.6 L360.4 290.2 L363.2 290.6 L364.2 292.7 L366.0 295.2 L368.1 296.9 L369.4 297.6 L368.8 299.1 L366.7 300.1 L363.9 300.1 L360.4 300.5 L356.5 300.6 L356.1 304.0 L354.7 303.6 L352.2 303.3 L350.8 302.9 L350.5 301.0 Z"/>
<path fill="#fff7bc" stroke="#fff7bc" stroke-width="0.9" d="M356.5 300.6 L360.4 300.5 L363.9 300.1 L364.2 304.0 L364.2 308.2 L364.9 311.8 L364.9 312.8 L363.9 313.9 L360.4 315.3 L357.5 316.0 L356.5 314.9 L356.0 313.2 L356.1 309.6 L356.5 306.8 L356.1 304.0 Z"/>
<path fill="#fe9929" stroke="#fe9929" stroke-width="0.9" d="M363.9 300.1 L366.7 300.1 L366.4 302.6 L366.7 312.1 L364.9 312.8 L364.9 311.8 L364.2 308.2 L364.2 304.0 Z"/>
<path fill="#fe9929" stroke="#fe9929" stroke-width="0.9" d="M366.7 300.1 L368.8 299.1 L369.4 297.6 L371.1 298.5 L371.3 299.4 L370.9 301.9 L370.2 304.7 L369.9 311.8 L366.7 312.1 L366.4 302.6 Z"/>
<path fill="#fec44f" stroke="#fec44f" stroke-width="0.9" d="M371.1 298.5 L372.4 294.8 L374.5 293.1 L375.9 293.5 L383.0 294.3 L388.7 295.0 L394.3 293.5 L396.5 297.8 L397.2 299.2 L394.3 302.8 L392.2 307.7 L389.4 311.3 L385.8 312.0 L383.0 314.8 L380.9 316.9 L377.3 317.6 L374.5 314.1 L371.7 312.4 L369.9 311.8 L370.2 304.7 L370.9 301.9 L371.3 299.4 Z"/>
<path fill="#fee391" stroke="#fee391" stroke-width="0.9" d="M396.5 297.8 L397.2 299.2 L398.6 303.5 L396.5 307.0 L397.9 311.3 L397.2 314.8 L398.6 318.3 L400.0 321.9 L399.3 323.3 L395.8 323.7 L388.7 323.3 L385.1 323.3 L384.4 320.5 L383.0 317.6 L383.0 314.8 L385.8 312.0 L389.4 311.3 L392.2 307.7 L394.3 302.8 L397.2 299.2 Z"/>
<path fill="#fec44f" stroke="#fec44f" stroke-width="0.9" d="M385.1 323.3 L388.7 323.3 L388.7 326.1 L385.1 326.1 Z"/>
<path fill="#ffffe5" stroke="#ffffe5" stroke-width="0.9" d="M385.1 326.1 L388.7 326.1 L388.7 323.3 L395.8 323.7 L396.0 328.3 L395.1 332.5 L396.5 335.3 L391.5 336.0 L390.1 338.9 L388.7 339.6 L385.8 335.3 L383.7 331.8 L384.1 328.3 Z"/>
<path fill="#fe9929" stroke="#fe9929" stroke-width="0.9" d="M395.8 323.7 L399.3 323.3 L402.1 320.5 L405.0 319.8 L404.3 325.4 L402.8 330.4 L400.7 335.3 L398.6 338.9 L395.8 341.7 L392.2 344.5 L390.8 341.7 L388.7 339.6 L390.1 338.9 L391.5 336.0 L396.5 335.3 L395.1 332.5 L396.0 328.3 Z"/>
<path fill="#802d05" stroke="#802d05" stroke-width="0.9" d="M398.6 318.3 L397.2 314.8 L397.9 311.3 L396.5 307.0 L398.6 303.5 L402.8 305.6 L408.5 304.2 L412.8 300.6 L415.7 300.2 L417.7 303.5 L419.8 308.4 L422.7 312.7 L426.9 315.5 L424.1 316.2 L419.1 315.5 L414.2 316.9 L408.5 316.2 L405.7 317.6 L405.0 319.8 L402.1 320.5 L399.3 323.3 L400.0 321.9 Z"/>
<path fill="#993404" stroke="#993404" stroke-width="0.9" d="M405.0 319.8 L405.7 317.6 L408.5 316.2 L414.2 316.9 L419.1 315.5 L424.1 316.2 L426.9 315.5 L432.0 317.6 L436.3 318.3 L434.0 320.0 L433.0 325.7 L432.1 329.5 L431.6 332.4 L430.2 334.3 L431.6 335.7 L430.6 337.6 L431.6 339.0 L430.6 341.9 L431.1 345.7 L432.5 348.5 L433.0 350.4 L430.6 350.9 L428.7 352.3 L428.3 357.1 L428.7 359.9 L430.9 361.3 L430.6 362.8 L429.2 362.3 L427.8 360.4 L425.4 359.4 L422.6 359.0 L417.8 357.5 L414.5 357.1 L413.5 352.3 L412.6 348.5 L409.3 347.1 L405.5 348.0 L402.1 348.5 L400.2 344.2 L395.0 344.2 L392.2 344.5 L395.8 341.7 L398.6 338.9 L400.7 335.3 L402.8 330.4 L404.3 325.4 Z"/>
<path fill="#fe9929" stroke="#fe9929" stroke-width="0.9" d="M392.2 344.5 L395.0 344.2 L400.2 344.2 L402.1 348.5 L405.5 348.0 L409.3 347.1 L412.6 348.5 L413.5 352.3 L414.5 357.1 L417.8 357.5 L417.3 361.8 L413.5 362.8 L412.6 367.5 L413.5 371.3 L415.9 374.6 L411.8 374.8 L405.5 374.6 L396.3 373.4 L389.9 373.4 L389.2 369.2 L391.3 363.5 L392.7 358.5 L393.6 358.0 L392.9 352.3 L391.5 346.7 Z"/>
<path fill="#fe9929" stroke="#fe9929" stroke-width="0.9" d="M390.8 341.7 L392.2 343.8 L390.8 344.5 L389.8 342.7 Z"/>
<path fill="#fe9929" stroke="#fe9929" stroke-width="0.9" d="M417.8 357.5 L422.6 359.0 L425.4 359.4 L427.8 360.4 L429.2 362.3 L430.6 362.8 L430.9 361.3 L428.7 359.9 L428.3 357.1 L428.7 352.3 L430.6 350.9 L433.0 350.4 L435.9 351.8 L438.7 353.3 L439.7 356.1 L439.2 359.0 L438.7 361.8 L438.2 364.7 L436.8 365.6 L433.0 367.0 L431.6 368.5 L429.7 369.4 L427.3 371.8 L424.9 375.1 L420.2 375.1 L415.9 374.6 L413.5 371.3 L412.6 367.5 L413.5 362.8 L417.3 361.8 Z"/>
<path fill="#802d05" stroke="#802d05" stroke-width="0.9" d="M438.7 353.3 L440.1 354.2 L440.6 357.5 L442.0 360.9 L443.5 364.7 L444.4 367.5 L443.9 370.8 L442.5 372.3 L441.6 369.4 L441.1 366.6 L439.7 364.7 L438.2 364.7 L438.7 361.8 L439.2 359.0 L439.7 356.1 Z"/>
<path fill="#ec7014" stroke="#ec7014" stroke-width="0.9" d="M434.0 332.4 L436.8 331.9 L441.6 331.9 L446.3 335.2 L453.0 340.4 L452.0 344.7 L453.4 348.5 L454.4 353.3 L455.3 356.1 L452.0 357.5 L447.7 359.0 L443.5 359.4 L442.0 360.9 L440.6 357.5 L440.1 354.2 L438.7 353.3 L435.9 351.8 L433.0 350.4 L432.5 348.5 L431.1 345.7 L430.6 341.9 L431.6 339.0 L433.5 337.6 L433.0 335.7 L431.6 335.7 L434.0 334.7 Z"/>
<path fill="#fec44f" stroke="#fec44f" stroke-width="0.9" d="M430.2 334.3 L431.6 332.4 L434.0 332.4 L434.0 334.7 L431.6 335.7 Z"/>
<path fill="#802d05" stroke="#802d05" stroke-width="0.9" d="M430.6 337.6 L431.6 335.7 L433.0 335.7 L433.5 337.6 L431.6 339.0 Z"/>
<path fill="#fe9929" stroke="#fe9929" stroke-width="0.9" d="M436.3 318.3 L441.9 317.6 L443.3 321.9 L442.6 326.1 L441.2 331.1 L436.3 331.4 L436.8 331.9 L434.0 332.4 L431.6 332.4 L432.1 329.5 L433.0 325.7 L434.0 320.0 Z"/>
<path fill="#fee391" stroke="#fee391" stroke-width="0.9" d="M444.8 314.8 L445.5 315.5 L449.7 318.3 L454.0 319.0 L458.2 318.3 L457.5 329.7 L458.9 332.5 L456.1 336.0 L453.3 340.3 L449.0 337.5 L441.9 332.5 L441.2 331.1 L442.6 326.1 L443.3 321.9 L441.9 317.6 Z"/>
<path fill="#fe9929" stroke="#fe9929" stroke-width="0.9" d="M441.2 303.6 L442.6 299.2 L444.8 295.7 L446.2 292.1 L448.3 292.6 L451.1 291.4 L455.4 293.1 L458.9 296.4 L460.3 299.9 L463.2 302.0 L472.4 307.7 L466.0 314.1 L461.8 316.9 L458.2 318.3 L454.0 319.0 L449.7 318.3 L445.5 315.5 L444.8 314.8 L443.3 312.7 L440.5 307.7 Z"/>
<path fill="#fe9929" stroke="#fe9929" stroke-width="0.9" d="M449.7 283.1 L451.8 285.9 L454.0 289.5 L457.5 292.3 L460.3 295.1 L461.8 297.3 L458.9 296.6 L455.4 293.0 L451.1 291.6 L448.3 292.3 L446.2 291.6 L446.9 286.6 Z"/>
<path fill="#fec44f" stroke="#fec44f" stroke-width="0.9" d="M458.9 296.4 L461.8 297.1 L462.0 299.9 L460.3 299.9 Z"/>
<path fill="#fe9929" stroke="#fe9929" stroke-width="0.9" d="M462.0 299.9 L466.0 301.3 L473.1 299.2 L479.9 297.4 L480.2 301.3 L478.0 308.4 L474.5 314.8 L468.8 321.2 L463.2 326.8 L458.9 332.5 L457.5 329.7 L458.2 318.3 L461.8 316.9 L466.0 314.1 L472.4 307.7 L463.2 302.0 L460.3 299.9 Z"/>
<path fill="#cc4c02" stroke="#cc4c02" stroke-width="0.9" d="M442.0 360.9 L443.5 359.4 L447.7 359.0 L452.0 357.5 L455.3 356.1 L456.5 362.1 L455.8 367.8 L452.2 372.0 L448.7 374.8 L444.4 378.4 L442.3 381.2 L443.0 384.8 L443.7 389.0 L441.6 392.5 L437.3 395.4 L435.9 398.9 L434.5 397.5 L435.2 393.3 L433.8 387.6 L435.9 385.5 L437.3 381.9 L438.0 377.7 L437.3 373.4 L435.2 370.6 L431.7 369.2 L431.6 368.5 L433.0 367.0 L436.8 365.6 L438.2 364.7 L439.7 364.7 L441.1 366.6 L441.6 369.4 L442.5 372.3 L443.9 370.8 L444.4 367.5 L443.5 364.7 Z"/>
<path fill="#fec44f" stroke="#fec44f" stroke-width="0.9" d="M425.3 374.1 L429.5 369.9 L431.7 369.2 L435.2 370.6 L437.3 373.4 L438.0 377.7 L437.3 381.9 L435.9 385.5 L433.8 387.6 L430.3 386.9 L426.7 384.0 L423.2 380.5 L421.0 376.3 L421.8 374.8 Z"/>
<path fill="#fee391" stroke="#fee391" stroke-width="0.9" d="M410.4 376.3 L418.2 374.8 L421.8 374.8 L421.0 376.3 L423.2 380.5 L426.7 384.0 L430.3 386.9 L427.4 387.6 L423.9 391.1 L421.0 395.4 L417.5 396.8 L414.7 395.4 L411.1 398.2 L409.0 396.1 L408.3 391.1 L408.6 385.5 L410.4 384.8 Z"/>
<path fill="#fe9929" stroke="#fe9929" stroke-width="0.9" d="M389.9 373.4 L396.3 373.4 L405.5 374.6 L411.8 374.8 L415.4 374.1 L418.2 374.8 L410.4 376.3 L410.4 384.8 L408.6 385.5 L408.3 391.1 L409.0 396.1 L407.6 403.2 L405.5 404.6 L401.2 403.2 L399.1 401.0 L397.0 394.7 L394.8 387.6 L392.0 380.5 Z"/>
<path fill="#fff7bc" stroke="#fff7bc" stroke-width="0.9" d="M401.2 403.2 L405.5 404.6 L407.6 403.2 L409.0 396.1 L411.1 398.2 L414.7 395.4 L417.5 396.8 L421.0 395.4 L423.9 391.1 L427.4 387.6 L430.3 386.9 L433.8 387.6 L435.2 393.3 L434.5 397.5 L435.9 398.9 L433.8 403.2 L431.0 407.4 L427.4 411.7 L423.2 415.2 L417.5 417.3 L410.4 418.0 L405.5 419.9 L403.3 417.3 L402.6 411.7 L400.5 406.0 Z"/>
<path fill="#fe9929" stroke="#fe9929" stroke-width="0.9" d="M423.2 406.0 L426.0 403.9 L428.1 406.0 L425.3 408.8 Z"/>
<path fill="#fff7bc" stroke="#fff7bc" stroke-width="0.9" d="M431.7 397.1 L433.1 396.4 L434.5 397.1 L434.8 398.9 L433.4 400.1 L432.0 399.2 Z"/>
<path fill="#cc4c02" stroke="#cc4c02" stroke-width="0.9" d="M461.4 384.0 L463.6 378.4 L464.3 372.7 L468.5 369.9 L472.1 367.0 L474.2 362.8 L475.9 360.7 L477.3 364.2 L477.7 369.2 L475.6 374.8 L473.5 381.9 L470.6 389.0 L468.5 394.0 L464.3 396.1 L461.7 393.3 L460.7 388.3 Z"/>
<path fill="#fe9929" stroke="#fe9929" stroke-width="0.9" d="M628.0 224.5 L630.0 222.0 L632.5 220.5 L635.0 218.5 L637.0 217.5 L638.0 218.5 L636.5 221.0 L635.5 224.0 L636.0 226.5 L638.0 228.5 L635.0 230.0 L632.0 230.2 L630.5 228.0 L629.5 225.5 Z"/>
<path fill="#fee391" stroke="#fee391" stroke-width="0.9" d="M572.4 273.6 L572.8 270.0 L573.0 266.5 L575.5 264.5 L576.5 261.0 L579.0 258.0 L580.5 255.5 L582.5 256.5 L584.0 259.5 L583.0 263.0 L583.5 265.5 L585.5 267.5 L587.5 270.0 L590.0 271.8 L591.8 273.0 L589.5 275.0 L587.0 277.0 L585.5 279.5 L585.0 282.0 L586.5 284.5 L588.0 287.5 L589.0 290.5 L590.0 294.0 L591.0 297.0 L590.8 300.5 L590.0 303.5 L589.6 304.0 L589.0 299.0 L587.4 294.0 L585.4 290.0 L583.6 287.0 L581.0 287.0 L578.0 285.0 L577.6 281.0 L575.0 277.0 Z"/>
<path fill="#fff7bc" stroke="#fff7bc" stroke-width="0.9" d="M496.0 237.5 L498.0 236.0 L501.5 234.0 L504.0 232.2 L508.0 232.0 L511.5 231.2 L514.0 229.5 L515.5 229.0 L516.8 230.5 L517.2 232.5 L519.5 232.2 L523.0 231.5 L523.5 232.5 L520.0 233.5 L518.0 234.0 L518.5 236.5 L518.0 239.0 L516.5 240.5 L517.0 242.5 L515.0 245.0 L512.5 246.5 L510.5 248.5 L509.0 251.0 L505.0 252.2 L501.0 252.5 L497.5 251.5 L498.5 249.0 L497.5 246.0 L496.0 243.5 L495.5 240.5 Z"/>
<path fill="#fff7bc" stroke="#fff7bc" stroke-width="0.9" d="M441.2 235.7 L445.5 233.9 L449.7 233.2 L453.5 232.3 L453.0 234.9 L451.1 237.7 L448.3 240.0 L445.5 242.0 L443.3 243.8 L442.2 241.7 L441.6 238.8 Z"/>
<path fill="#fff7bc" stroke="#fff7bc" stroke-width="0.9" d="M461.0 285.9 L463.9 283.8 L471.0 284.5 L474.5 281.7 L480.2 279.5 L482.3 281.7 L483.7 285.2 L480.2 288.0 L474.5 290.9 L468.8 293.0 L462.5 295.6 L461.5 290.9 Z"/>
<path fill="#993404" stroke="#993404" stroke-width="0.9" d="M687.5 336.0 L691.8 337.4 L695.5 339.0 L698.0 341.1 L699.7 343.5 L702.9 345.2 L702.5 346.8 L701.7 348.5 L703.8 350.9 L706.2 353.4 L708.7 355.9 L707.1 356.7 L704.2 355.9 L701.7 354.2 L700.1 351.4 L698.4 348.9 L695.5 348.5 L693.1 349.7 L692.2 352.6 L689.8 353.4 L687.0 352.6 L687.3 343.9 Z"/>
<path fill="#993404" stroke="#993404" stroke-width="0.9" d="M704.2 343.5 L706.2 343.1 L708.7 342.7 L711.2 341.5 L713.2 340.2 L714.5 341.1 L712.8 342.7 L710.8 344.4 L708.3 345.4 L705.8 344.9 Z"/>
<path fill="#993404" stroke="#993404" stroke-width="0.9" d="M710.4 335.7 L712.0 336.1 L714.5 338.2 L716.0 340.2 L715.5 341.1 L714.1 339.0 L712.0 337.2 L710.5 336.5 Z"/>
<path fill="#993404" stroke="#993404" stroke-width="0.9" d="M719.0 342.3 L719.8 342.5 L721.5 345.6 L721.9 347.1 L720.9 346.6 L719.4 344.4 Z"/>
<path fill="#fe9929" stroke="#fe9929" stroke-width="0.9" d="M743.0 367.6 L744.4 367.6 L745.0 372.0 L743.6 372.0 Z"/>
<path fill="none" stroke="#7c7c7c" stroke-width="0.42" d="M196.5 277.0 L200.5 277.2 L200.2 279.5 L199.7 281.8 L194.0 281.8 L194.0 280.2 L197.5 280.2 L198.0 278.8 L196.8 278.0 Z M163.5 296.0 L164.0 294.0 L166.5 292.0 L169.5 290.5 L172.5 290.0 L172.5 292.5 L171.5 296.0 L171.0 299.5 L168.5 300.0 L166.0 299.5 Z M349.0 234.9 L357.5 236.3 L359.6 239.2 L360.3 244.1 L356.1 246.3 L351.8 248.4 L347.6 251.2 L344.0 253.3 L343.3 257.3 L334.8 256.9 L336.3 254.0 L340.5 249.8 L342.6 244.8 L345.5 240.6 L348.3 237.0 Z M357.5 236.3 L363.2 234.2 L371.7 232.8 L380.2 232.1 L380.9 236.3 L379.5 240.6 L382.3 244.8 L385.1 249.1 L384.4 255.5 L385.1 261.8 L389.4 266.8 L388.7 268.2 L377.3 276.0 L372.4 278.8 L367.4 276.0 L349.0 263.3 L343.3 260.4 L343.3 257.3 L344.0 253.3 L347.6 251.2 L351.8 248.4 L356.1 246.3 L360.3 244.1 L359.6 239.2 Z M380.2 232.1 L384.4 231.4 L386.6 233.5 L385.8 237.0 L388.0 239.9 L388.7 243.4 L385.1 246.3 L385.1 249.1 L382.3 244.8 L379.5 240.6 L380.9 236.3 Z M385.1 246.3 L388.7 243.4 L394.3 244.1 L400.0 246.3 L405.7 249.1 L407.1 245.5 L411.3 243.4 L417.0 244.8 L418.4 246.3 L417.7 250.5 L419.1 256.2 L419.8 271.8 L419.1 277.4 L398.6 268.2 L396.5 269.6 L389.4 266.8 L385.1 261.8 L384.4 255.5 L385.1 249.1 Z M418.4 246.3 L423.5 247.4 L429.2 247.7 L434.8 246.3 L438.4 247.7 L440.2 246.3 L441.2 251.2 L439.8 252.6 L438.4 250.5 L436.3 251.6 L438.4 257.6 L441.2 263.3 L444.0 268.9 L445.5 271.8 L419.8 271.8 L419.1 256.2 Z M419.8 271.8 L445.5 271.8 L446.9 276.0 L448.3 280.3 L449.7 283.1 L446.9 286.6 L446.2 291.6 L444.8 295.1 L442.6 298.7 L441.2 303.6 L439.8 301.5 L438.4 298.0 L437.0 298.7 L436.3 302.2 L427.0 301.5 L420.7 302.2 L417.7 303.5 L415.7 300.2 L415.0 290.2 L417.1 287.3 L416.4 278.1 L419.3 277.4 Z M420.7 302.2 L427.0 301.5 L436.3 302.2 L437.0 298.6 L438.4 297.9 L439.8 301.5 L441.2 303.6 L440.5 307.7 L443.3 312.7 L444.8 314.8 L441.9 317.6 L436.3 318.3 L432.0 317.6 L426.9 315.5 L422.7 312.7 L419.8 308.4 L417.7 303.5 Z M396.5 269.6 L398.6 268.2 L419.1 277.4 L416.3 278.1 L417.0 287.3 L414.9 290.2 L415.6 300.0 L412.8 300.7 L408.5 304.2 L402.8 305.6 L398.6 303.5 L397.2 299.2 L396.5 297.8 L394.3 293.6 L393.6 291.6 L395.8 285.9 L397.2 281.7 L397.9 274.6 Z M371.7 287.3 L372.4 278.8 L377.3 276.0 L388.7 268.2 L396.5 269.6 L397.9 274.6 L397.2 281.7 L395.8 285.9 L393.6 291.6 L394.3 293.6 L388.7 295.0 L383.0 294.3 L375.9 293.6 L374.5 293.1 L372.4 294.8 L371.1 298.5 L369.4 297.6 L368.1 296.9 L366.0 295.2 L364.2 292.7 L363.2 290.6 L364.6 289.9 L367.4 288.5 Z M349.0 263.3 L367.4 276.0 L372.4 278.8 L371.7 287.3 L367.4 288.5 L364.6 289.9 L363.2 290.6 L360.4 290.2 L357.5 291.6 L354.7 293.4 L352.6 295.2 L351.2 298.4 L350.5 301.0 L349.1 301.9 L346.9 302.4 L344.5 302.6 L343.4 300.8 L342.4 298.5 L341.3 296.6 L338.5 297.5 L336.0 296.4 L335.6 292.4 L336.5 289.9 L341.3 288.8 L350.5 288.5 L348.3 267.5 Z M333.1 273.2 L333.4 268.2 L336.3 267.5 L337.0 261.6 L343.3 260.4 L349.0 263.3 L348.3 267.5 L350.5 288.5 L341.3 288.8 L336.5 289.9 L334.6 289.9 L332.1 287.1 L329.6 285.6 L327.2 286.0 L325.4 284.2 L325.8 280.0 L326.3 277.4 L324.9 273.5 Z M323.3 290.6 L324.7 287.8 L327.2 286.0 L329.6 285.6 L332.1 287.1 L334.6 289.9 L336.5 289.9 L335.6 292.4 L336.0 296.4 L331.1 296.4 L325.1 296.6 L324.5 294.8 L323.6 292.7 Z M325.1 293.3 L331.1 293.2 L331.1 293.9 L325.1 294.0 Z M325.1 296.6 L331.1 296.4 L330.7 298.0 L328.9 299.1 L326.8 298.5 Z M331.1 296.4 L336.0 296.4 L338.5 297.5 L341.3 296.6 L342.4 298.5 L343.4 300.8 L344.5 302.6 L344.0 304.4 L344.0 307.2 L343.1 308.6 L342.0 306.8 L340.6 305.6 L339.2 306.5 L338.8 304.4 L337.1 302.6 L334.9 302.6 L333.2 304.4 L331.8 301.9 L330.0 300.1 L328.9 299.1 L330.7 298.0 Z M333.2 304.4 L334.9 302.6 L337.1 302.6 L338.8 304.4 L339.2 306.5 L338.1 308.2 L336.7 310.0 L334.9 308.9 L333.2 306.8 Z M339.2 306.5 L340.6 305.6 L342.0 306.8 L343.1 308.6 L343.4 311.1 L345.2 313.9 L345.5 316.8 L342.7 316.0 L339.9 313.2 L338.1 311.1 L336.7 310.0 L338.1 308.2 Z M344.0 304.4 L344.5 302.6 L346.9 302.4 L349.1 301.9 L350.5 301.0 L350.8 302.9 L352.2 303.3 L354.7 303.6 L356.1 304.0 L356.5 306.8 L356.1 309.6 L356.0 313.2 L356.5 314.9 L353.3 314.9 L349.1 316.0 L345.5 316.8 L345.2 313.9 L343.4 311.1 L343.1 308.6 L344.0 307.2 Z M351.2 298.4 L352.6 295.2 L354.7 293.4 L357.5 291.6 L360.4 290.2 L363.2 290.6 L364.2 292.7 L366.0 295.2 L368.1 296.9 L369.4 297.6 L368.8 299.1 L366.7 300.1 L363.9 300.1 L360.4 300.5 L356.5 300.6 L356.1 304.0 L354.7 303.6 L352.2 303.3 L350.8 302.9 L350.5 301.0 Z M356.5 300.6 L360.4 300.5 L363.9 300.1 L364.2 304.0 L364.2 308.2 L364.9 311.8 L364.9 312.8 L363.9 313.9 L360.4 315.3 L357.5 316.0 L356.5 314.9 L356.0 313.2 L356.1 309.6 L356.5 306.8 L356.1 304.0 Z M363.9 300.1 L366.7 300.1 L366.4 302.6 L366.7 312.1 L364.9 312.8 L364.9 311.8 L364.2 308.2 L364.2 304.0 Z M366.7 300.1 L368.8 299.1 L369.4 297.6 L371.1 298.5 L371.3 299.4 L370.9 301.9 L370.2 304.7 L369.9 311.8 L366.7 312.1 L366.4 302.6 Z M371.1 298.5 L372.4 294.8 L374.5 293.1 L375.9 293.5 L383.0 294.3 L388.7 295.0 L394.3 293.5 L396.5 297.8 L397.2 299.2 L394.3 302.8 L392.2 307.7 L389.4 311.3 L385.8 312.0 L383.0 314.8 L380.9 316.9 L377.3 317.6 L374.5 314.1 L371.7 312.4 L369.9 311.8 L370.2 304.7 L370.9 301.9 L371.3 299.4 Z M396.5 297.8 L397.2 299.2 L398.6 303.5 L396.5 307.0 L397.9 311.3 L397.2 314.8 L398.6 318.3 L400.0 321.9 L399.3 323.3 L395.8 323.7 L388.7 323.3 L385.1 323.3 L384.4 320.5 L383.0 317.6 L383.0 314.8 L385.8 312.0 L389.4 311.3 L392.2 307.7 L394.3 302.8 L397.2 299.2 Z M385.1 323.3 L388.7 323.3 L388.7 326.1 L385.1 326.1 Z M385.1 326.1 L388.7 326.1 L388.7 323.3 L395.8 323.7 L396.0 328.3 L395.1 332.5 L396.5 335.3 L391.5 336.0 L390.1 338.9 L388.7 339.6 L385.8 335.3 L383.7 331.8 L384.1 328.3 Z M395.8 323.7 L399.3 323.3 L402.1 320.5 L405.0 319.8 L404.3 325.4 L402.8 330.4 L400.7 335.3 L398.6 338.9 L395.8 341.7 L392.2 344.5 L390.8 341.7 L388.7 339.6 L390.1 338.9 L391.5 336.0 L396.5 335.3 L395.1 332.5 L396.0 328.3 Z M398.6 318.3 L397.2 314.8 L397.9 311.3 L396.5 307.0 L398.6 303.5 L402.8 305.6 L408.5 304.2 L412.8 300.6 L415.7 300.2 L417.7 303.5 L419.8 308.4 L422.7 312.7 L426.9 315.5 L424.1 316.2 L419.1 315.5 L414.2 316.9 L408.5 316.2 L405.7 317.6 L405.0 319.8 L402.1 320.5 L399.3 323.3 L400.0 321.9 Z M405.0 319.8 L405.7 317.6 L408.5 316.2 L414.2 316.9 L419.1 315.5 L424.1 316.2 L426.9 315.5 L432.0 317.6 L436.3 318.3 L434.0 320.0 L433.0 325.7 L432.1 329.5 L431.6 332.4 L430.2 334.3 L431.6 335.7 L430.6 337.6 L431.6 339.0 L430.6 341.9 L431.1 345.7 L432.5 348.5 L433.0 350.4 L430.6 350.9 L428.7 352.3 L428.3 357.1 L428.7 359.9 L430.9 361.3 L430.6 362.8 L429.2 362.3 L427.8 360.4 L425.4 359.4 L422.6 359.0 L417.8 357.5 L414.5 357.1 L413.5 352.3 L412.6 348.5 L409.3 347.1 L405.5 348.0 L402.1 348.5 L400.2 344.2 L395.0 344.2 L392.2 344.5 L395.8 341.7 L398.6 338.9 L400.7 335.3 L402.8 330.4 L404.3 325.4 Z M392.2 344.5 L395.0 344.2 L400.2 344.2 L402.1 348.5 L405.5 348.0 L409.3 347.1 L412.6 348.5 L413.5 352.3 L414.5 357.1 L417.8 357.5 L417.3 361.8 L413.5 362.8 L412.6 367.5 L413.5 371.3 L415.9 374.6 L411.8 374.8 L405.5 374.6 L396.3 373.4 L389.9 373.4 L389.2 369.2 L391.3 363.5 L392.7 358.5 L393.6 358.0 L392.9 352.3 L391.5 346.7 Z M390.8 341.7 L392.2 343.8 L390.8 344.5 L389.8 342.7 Z M417.8 357.5 L422.6 359.0 L425.4 359.4 L427.8 360.4 L429.2 362.3 L430.6 362.8 L430.9 361.3 L428.7 359.9 L428.3 357.1 L428.7 352.3 L430.6 350.9 L433.0 350.4 L435.9 351.8 L438.7 353.3 L439.7 356.1 L439.2 359.0 L438.7 361.8 L438.2 364.7 L436.8 365.6 L433.0 367.0 L431.6 368.5 L429.7 369.4 L427.3 371.8 L424.9 375.1 L420.2 375.1 L415.9 374.6 L413.5 371.3 L412.6 367.5 L413.5 362.8 L417.3 361.8 Z M438.7 353.3 L440.1 354.2 L440.6 357.5 L442.0 360.9 L443.5 364.7 L444.4 367.5 L443.9 370.8 L442.5 372.3 L441.6 369.4 L441.1 366.6 L439.7 364.7 L438.2 364.7 L438.7 361.8 L439.2 359.0 L439.7 356.1 Z M434.0 332.4 L436.8 331.9 L441.6 331.9 L446.3 335.2 L453.0 340.4 L452.0 344.7 L453.4 348.5 L454.4 353.3 L455.3 356.1 L452.0 357.5 L447.7 359.0 L443.5 359.4 L442.0 360.9 L440.6 357.5 L440.1 354.2 L438.7 353.3 L435.9 351.8 L433.0 350.4 L432.5 348.5 L431.1 345.7 L430.6 341.9 L431.6 339.0 L433.5 337.6 L433.0 335.7 L431.6 335.7 L434.0 334.7 Z M430.2 334.3 L431.6 332.4 L434.0 332.4 L434.0 334.7 L431.6 335.7 Z M430.6 337.6 L431.6 335.7 L433.0 335.7 L433.5 337.6 L431.6 339.0 Z M436.3 318.3 L441.9 317.6 L443.3 321.9 L442.6 326.1 L441.2 331.1 L436.3 331.4 L436.8 331.9 L434.0 332.4 L431.6 332.4 L432.1 329.5 L433.0 325.7 L434.0 320.0 Z M444.8 314.8 L445.5 315.5 L449.7 318.3 L454.0 319.0 L458.2 318.3 L457.5 329.7 L458.9 332.5 L456.1 336.0 L453.3 340.3 L449.0 337.5 L441.9 332.5 L441.2 331.1 L442.6 326.1 L443.3 321.9 L441.9 317.6 Z M441.2 303.6 L442.6 299.2 L444.8 295.7 L446.2 292.1 L448.3 292.6 L451.1 291.4 L455.4 293.1 L458.9 296.4 L460.3 299.9 L463.2 302.0 L472.4 307.7 L466.0 314.1 L461.8 316.9 L458.2 318.3 L454.0 319.0 L449.7 318.3 L445.5 315.5 L444.8 314.8 L443.3 312.7 L440.5 307.7 Z M449.7 283.1 L451.8 285.9 L454.0 289.5 L457.5 292.3 L460.3 295.1 L461.8 297.3 L458.9 296.6 L455.4 293.0 L451.1 291.6 L448.3 292.3 L446.2 291.6 L446.9 286.6 Z M458.9 296.4 L461.8 297.1 L462.0 299.9 L460.3 299.9 Z M462.0 299.9 L466.0 301.3 L473.1 299.2 L479.9 297.4 L480.2 301.3 L478.0 308.4 L474.5 314.8 L468.8 321.2 L463.2 326.8 L458.9 332.5 L457.5 329.7 L458.2 318.3 L461.8 316.9 L466.0 314.1 L472.4 307.7 L463.2 302.0 L460.3 299.9 Z M442.0 360.9 L443.5 359.4 L447.7 359.0 L452.0 357.5 L455.3 356.1 L456.5 362.1 L455.8 367.8 L452.2 372.0 L448.7 374.8 L444.4 378.4 L442.3 381.2 L443.0 384.8 L443.7 389.0 L441.6 392.5 L437.3 395.4 L435.9 398.9 L434.5 397.5 L435.2 393.3 L433.8 387.6 L435.9 385.5 L437.3 381.9 L438.0 377.7 L437.3 373.4 L435.2 370.6 L431.7 369.2 L431.6 368.5 L433.0 367.0 L436.8 365.6 L438.2 364.7 L439.7 364.7 L441.1 366.6 L441.6 369.4 L442.5 372.3 L443.9 370.8 L444.4 367.5 L443.5 364.7 Z M425.3 374.1 L429.5 369.9 L431.7 369.2 L435.2 370.6 L437.3 373.4 L438.0 377.7 L437.3 381.9 L435.9 385.5 L433.8 387.6 L430.3 386.9 L426.7 384.0 L423.2 380.5 L421.0 376.3 L421.8 374.8 Z M410.4 376.3 L418.2 374.8 L421.8 374.8 L421.0 376.3 L423.2 380.5 L426.7 384.0 L430.3 386.9 L427.4 387.6 L423.9 391.1 L421.0 395.4 L417.5 396.8 L414.7 395.4 L411.1 398.2 L409.0 396.1 L408.3 391.1 L408.6 385.5 L410.4 384.8 Z M389.9 373.4 L396.3 373.4 L405.5 374.6 L411.8 374.8 L415.4 374.1 L418.2 374.8 L410.4 376.3 L410.4 384.8 L408.6 385.5 L408.3 391.1 L409.0 396.1 L407.6 403.2 L405.5 404.6 L401.2 403.2 L399.1 401.0 L397.0 394.7 L394.8 387.6 L392.0 380.5 Z M401.2 403.2 L405.5 404.6 L407.6 403.2 L409.0 396.1 L411.1 398.2 L414.7 395.4 L417.5 396.8 L421.0 395.4 L423.9 391.1 L427.4 387.6 L430.3 386.9 L433.8 387.6 L435.2 393.3 L434.5 397.5 L435.9 398.9 L433.8 403.2 L431.0 407.4 L427.4 411.7 L423.2 415.2 L417.5 417.3 L410.4 418.0 L405.5 419.9 L403.3 417.3 L402.6 411.7 L400.5 406.0 Z M423.2 406.0 L426.0 403.9 L428.1 406.0 L425.3 408.8 Z M431.7 397.1 L433.1 396.4 L434.5 397.1 L434.8 398.9 L433.4 400.1 L432.0 399.2 Z M461.4 384.0 L463.6 378.4 L464.3 372.7 L468.5 369.9 L472.1 367.0 L474.2 362.8 L475.9 360.7 L477.3 364.2 L477.7 369.2 L475.6 374.8 L473.5 381.9 L470.6 389.0 L468.5 394.0 L464.3 396.1 L461.7 393.3 L460.7 388.3 Z M628.0 224.5 L630.0 222.0 L632.5 220.5 L635.0 218.5 L637.0 217.5 L638.0 218.5 L636.5 221.0 L635.5 224.0 L636.0 226.5 L638.0 228.5 L635.0 230.0 L632.0 230.2 L630.5 228.0 L629.5 225.5 Z M572.4 273.6 L572.8 270.0 L573.0 266.5 L575.5 264.5 L576.5 261.0 L579.0 258.0 L580.5 255.5 L582.5 256.5 L584.0 259.5 L583.0 263.0 L583.5 265.5 L585.5 267.5 L587.5 270.0 L590.0 271.8 L591.8 273.0 L589.5 275.0 L587.0 277.0 L585.5 279.5 L585.0 282.0 L586.5 284.5 L588.0 287.5 L589.0 290.5 L590.0 294.0 L591.0 297.0 L590.8 300.5 L590.0 303.5 L589.6 304.0 L589.0 299.0 L587.4 294.0 L585.4 290.0 L583.6 287.0 L581.0 287.0 L578.0 285.0 L577.6 281.0 L575.0 277.0 Z M496.0 237.5 L498.0 236.0 L501.5 234.0 L504.0 232.2 L508.0 232.0 L511.5 231.2 L514.0 229.5 L515.5 229.0 L516.8 230.5 L517.2 232.5 L519.5 232.2 L523.0 231.5 L523.5 232.5 L520.0 233.5 L518.0 234.0 L518.5 236.5 L518.0 239.0 L516.5 240.5 L517.0 242.5 L515.0 245.0 L512.5 246.5 L510.5 248.5 L509.0 251.0 L505.0 252.2 L501.0 252.5 L497.5 251.5 L498.5 249.0 L497.5 246.0 L496.0 243.5 L495.5 240.5 Z M441.2 235.7 L445.5 233.9 L449.7 233.2 L453.5 232.3 L453.0 234.9 L451.1 237.7 L448.3 240.0 L445.5 242.0 L443.3 243.8 L442.2 241.7 L441.6 238.8 Z M461.0 285.9 L463.9 283.8 L471.0 284.5 L474.5 281.7 L480.2 279.5 L482.3 281.7 L483.7 285.2 L480.2 288.0 L474.5 290.9 L468.8 293.0 L462.5 295.6 L461.5 290.9 Z M687.5 336.0 L691.8 337.4 L695.5 339.0 L698.0 341.1 L699.7 343.5 L702.9 345.2 L702.5 346.8 L701.7 348.5 L703.8 350.9 L706.2 353.4 L708.7 355.9 L707.1 356.7 L704.2 355.9 L701.7 354.2 L700.1 351.4 L698.4 348.9 L695.5 348.5 L693.1 349.7 L692.2 352.6 L689.8 353.4 L687.0 352.6 L687.3 343.9 Z M704.2 343.5 L706.2 343.1 L708.7 342.7 L711.2 341.5 L713.2 340.2 L714.5 341.1 L712.8 342.7 L710.8 344.4 L708.3 345.4 L705.8 344.9 Z M710.4 335.7 L712.0 336.1 L714.5 338.2 L716.0 340.2 L715.5 341.1 L714.1 339.0 L712.0 337.2 L710.5 336.5 Z M719.0 342.3 L719.8 342.5 L721.5 345.6 L721.9 347.1 L720.9 346.6 L719.4 344.4 Z M743.0 367.6 L744.4 367.6 L745.0 372.0 L743.6 372.0 Z"/>
<path fill="url(#hatch)" stroke="#bdbdbd" stroke-width="0.4" d="M237.0 314.0 L241.0 315.0 L243.6 317.0 L241.0 322.0 L238.0 322.0 L236.4 319.0 Z"/>
<path fill="url(#hatch)" stroke="#bdbdbd" stroke-width="0.4" d="M334.8 256.9 L343.3 257.3 L343.3 260.4 L337.0 261.6 L336.3 267.5 L333.4 268.2 L333.1 273.2 L324.9 273.5 L327.0 267.5 L330.6 261.8 Z"/>
<path fill="none" stroke="#707070" stroke-width="0.5" d="M128.0 152.0 L104.0 173.0 M112.0 201.4 L150.0 201.4 M105.0 243.0 L110.0 244.0 L120.0 246.4 L128.0 248.0 L132.0 251.0 L136.0 252.0 L139.0 255.0 L141.0 259.0 L143.6 262.4 M196.4 299.0 L195.0 305.0 L197.0 310.0 L203.0 312.0 L208.0 315.0 L207.0 320.0 L209.0 326.0 M209.0 326.0 L214.0 324.0 L215.0 319.0 L221.0 317.0 L225.0 319.0 M223.6 304.4 L221.6 310.0 L223.0 315.0 L225.6 320.0 L227.0 325.0 L230.0 324.0 L232.0 323.0 L230.0 318.0 L232.0 312.4 M237.0 314.0 L236.4 319.0 L238.0 322.0 L235.0 323.0 L232.0 323.0 M209.0 326.0 L202.4 325.0 L201.6 330.0 L202.4 336.0 L201.0 339.0 M178.0 327.0 L183.0 326.0 L189.0 329.0 L193.0 334.0 L198.0 336.0 L201.0 339.0 M177.0 341.0 L182.0 338.0 L187.0 333.0 L189.0 329.0 M201.0 339.0 L197.0 343.0 L194.0 347.0 L195.0 352.0 L199.0 356.0 L204.0 357.0 M204.0 357.0 L205.0 364.0 L204.0 370.0 L205.0 376.0 L203.6 378.0 M204.0 357.0 L210.0 355.0 L213.0 359.0 L219.0 363.0 L225.0 366.0 L226.0 371.0 L231.0 372.0 L232.4 379.0 M204.4 379.0 L207.0 384.0 L209.0 388.0 M209.0 388.0 L213.0 387.0 L219.0 388.0 L222.0 384.0 L224.0 381.0 L229.0 379.6 L232.4 379.0 M232.4 379.0 L232.0 384.0 L237.0 388.0 L240.0 392.0 L241.0 396.0 L239.0 400.0 M222.0 384.0 L223.0 389.0 L229.0 394.0 L234.0 397.0 L235.0 401.0 L239.0 400.0 M239.0 400.0 L243.0 398.0 L242.4 402.0 L238.0 408.0 M209.0 388.0 L210.0 394.0 M209.0 396.0 L208.0 402.0 L209.0 410.0 L210.0 418.0 L210.0 426.0 L211.0 433.0 L212.0 439.0 L215.0 444.0 L216.0 450.0 L217.0 456.0 L220.0 461.0 L225.0 465.0 L228.0 466.0 M227.0 464.4 L228.0 471.0 M238.0 408.0 L236.4 408.4 L242.0 410.0 L247.0 415.0 M236.4 408.4 L235.6 414.0 L236.4 419.6 M378.0 189.5 L376.5 192.0 L375.5 195.0 L376.0 198.5 L375.5 200.5 L378.5 201.5 L379.0 204.0 M390.5 189.0 L391.5 192.5 L392.0 196.0 L389.0 197.5 L387.5 199.0 L389.5 201.5 L391.0 202.5 L389.0 204.0 L385.0 204.5 L382.5 205.5 L379.0 204.0 M378.0 189.5 L375.0 190.5 L372.5 193.0 L371.0 195.5 L369.5 196.0 M369.5 196.0 L372.0 197.5 L374.5 199.0 L375.5 200.5 M371.0 195.5 L373.5 196.0 L375.5 195.0 M375.5 200.5 L376.0 203.5 L375.0 207.0 L376.5 209.0 L377.5 210.0 L377.0 213.0 L378.0 214.5 M376.0 205.0 L379.0 204.0 M382.5 205.5 L383.0 207.5 L380.0 208.5 L377.5 209.0 L376.0 207.0 M391.0 202.5 L395.0 202.5 L397.5 203.5 L397.0 205.5 L395.5 207.0 L392.0 208.0 L389.0 207.5 L386.5 207.0 L383.0 207.5 M392.0 196.0 L395.0 197.0 L398.5 198.5 L400.0 200.0 L397.5 201.5 L395.0 202.5 M399.5 186.5 L403.0 187.0 L408.0 188.0 L409.0 191.0 L410.0 194.0 L411.0 196.5 L409.0 199.5 L408.0 201.0 L404.5 200.5 L400.0 200.0 M397.5 201.5 L397.5 203.5 M408.0 201.0 L407.5 202.5 L404.0 203.0 L400.5 204.0 L397.5 203.5 M407.5 202.5 L408.5 204.0 L406.5 206.5 L405.0 208.5 L402.0 209.0 L398.5 209.5 L396.0 208.0 L395.5 207.0 M389.0 207.5 L389.5 209.5 L391.5 210.0 L394.5 209.5 L396.0 208.0 M391.5 210.0 L391.5 211.5 M402.0 209.0 L403.0 211.0 L400.0 211.5 L397.0 211.2 L395.0 212.0 L397.0 214.5 L399.5 217.0 L402.0 218.5 M403.0 211.0 L403.5 213.5 L402.5 216.0 L402.0 218.5 L403.0 220.0 M405.0 208.5 L407.0 210.0 L409.0 212.0 L408.5 214.0 L410.5 215.5 L410.0 218.0 L408.0 219.0 L406.5 217.5 L404.5 218.0 L403.5 216.0 L403.5 213.5 M402.5 216.0 L404.5 218.0 L404.0 219.5 L403.0 220.0 M404.5 218.0 L406.0 220.0 L407.5 219.0 L408.0 219.0 M404.0 219.5 L406.0 220.0 L406.5 222.5 L407.0 224.5 L405.5 225.5 M410.0 218.0 L410.0 218.5 L411.0 220.5 L409.0 222.0 L406.5 222.5 M407.0 224.5 L409.0 222.0 M411.0 220.5 L415.0 221.0 L418.0 220.0 L419.5 219.5 L420.0 220.5 M409.0 212.0 L412.0 213.0 L417.0 212.0 L421.0 212.5 L422.5 213.5 M419.5 219.5 L420.5 218.0 L421.5 216.0 M420.5 218.0 L422.5 218.5 L424.0 217.5 M406.5 206.5 L408.5 204.0 L412.0 203.5 L417.0 203.0 L419.5 205.0 L421.5 208.0 L423.0 210.0 L424.5 210.5 M419.5 205.0 L421.0 204.0 L423.5 206.5 L424.5 209.0 L423.0 210.0 M409.0 199.5 L411.0 196.5 L415.0 195.5 L419.5 195.0 L424.0 195.5 L426.5 193.5 L430.0 194.0 L433.5 196.0 L437.0 198.0 L441.0 199.0 L444.0 201.0 L443.5 204.5 L441.0 206.5 L438.0 207.5 L439.5 207.8 M408.0 188.0 L411.0 186.5 L415.0 184.0 L418.5 184.5 L422.0 186.0 L424.0 188.5 L426.0 191.0 L425.0 193.0 L426.5 193.5 M403.0 184.0 L407.0 183.0 L411.0 183.5 L413.0 185.0 L411.0 186.5 M403.0 187.0 L405.0 187.0 L408.0 188.0 M413.0 185.0 L415.0 184.0 L416.0 182.5 L412.0 181.0 L407.0 180.5 L403.5 180.8 M380.0 188.0 L382.5 187.5 M383.0 176.5 L384.5 173.0 L384.0 169.0 L385.0 166.0 L388.0 163.0 L391.0 159.0 L394.0 156.0 L397.5 153.5 L398.5 152.8 M404.5 160.8 L404.0 158.0 L402.0 155.5 L398.5 152.8 M398.5 152.8 L402.0 153.5 L405.0 152.5 L408.0 151.0 L411.0 152.0 L413.0 150.8 L414.8 150.5 M413.0 150.8 L412.0 153.5 L413.0 157.0 L415.0 161.0 L417.0 165.0 L419.8 168.5 L418.0 171.5 L416.0 173.5 M413.0 175.0 L415.5 175.5 L414.8 178.0 L415.0 180.0 L412.0 180.0 L409.0 179.5 M415.0 180.0 L416.2 182.5 M347.1 218.3 L347.8 221.8 L346.4 225.4 L346.8 230.3 L345.7 231.8 M359.1 216.5 L363.4 217.9 L367.6 218.3 L369.8 219.7 M460.2 211.6 L457.8 207.5 L456.6 202.8 L457.8 198.6 L462.0 195.7 L466.7 194.7 L472.6 195.4 L479.7 196.2 L485.0 196.8 L483.8 194.5 L481.5 190.3 L486.8 188.0 L495.1 185.6 L498.6 185.0 L502.0 188.0 L508.0 190.0 L512.0 188.0 L518.0 192.0 L524.0 196.0 L532.0 199.0 L539.0 201.0 M539.0 201.0 L536.0 205.0 L532.0 208.0 L533.0 212.0 L529.0 214.0 L530.0 219.0 L526.0 221.0 L520.0 222.0 M539.0 201.0 L546.0 198.0 L554.0 199.0 L559.0 195.0 L566.0 197.0 L574.0 199.0 L582.0 200.0 L590.0 199.0 L597.0 200.0 M597.0 200.0 L598.0 205.0 L605.0 204.0 L607.0 207.0 L600.0 210.0 L594.0 213.0 L593.0 216.0 L586.0 219.0 L578.0 218.0 L570.0 217.0 L562.0 214.0 L554.0 212.0 L548.0 207.0 L543.0 203.0 L539.0 201.0 M597.0 200.0 L599.0 192.0 L604.0 190.0 L610.0 192.0 L620.0 198.0 M620.0 198.0 L626.0 201.0 L633.0 202.0 L637.0 203.0 L637.6 208.0 L635.0 212.0 L638.0 218.0 M477.3 220.5 L479.7 219.3 L480.9 217.0 L479.1 213.4 L480.3 211.0 L483.3 210.4 L488.0 211.6 L492.7 213.4 L496.3 215.2 L499.8 218.1 L503.4 220.5 L506.9 221.7 L510.5 220.5 L512.8 218.1 L517.6 217.0 L523.5 216.4 L530.0 216.4 M480.9 217.0 L483.8 218.7 L486.2 217.5 L489.2 219.3 L492.7 222.3 L496.9 224.6 L501.0 226.4 L505.7 228.2 L508.7 230.0 L510.5 230.6 M477.9 232.3 L482.1 230.0 L486.8 229.4 L491.5 231.7 L495.1 234.7 L495.7 237.1 M506.9 221.7 L508.7 224.1 L512.8 223.5 L511.7 225.8 L508.7 226.4 L510.5 230.6 M445.4 215.8 L450.1 216.4 L454.9 218.1 L459.6 219.9 L462.5 219.3 L464.9 220.5 M449.5 219.9 L453.7 220.5 L457.2 221.7 L460.8 221.1 L459.6 219.9 M457.2 221.7 L458.4 224.6 L460.8 226.4 L463.7 225.8 L465.5 227.6 L468.5 226.4 L469.6 229.4 M458.4 225.2 L457.8 229.4 L459.0 231.7 L457.2 231.7 M457.2 231.7 L453.3 232.5 M453.5 232.3 L457.5 231.0 L458.9 230.1 M458.9 230.3 L460.3 234.6 L462.5 238.1 L463.9 241.7 L466.7 245.9 L469.5 249.5 L470.3 251.6 M448.3 245.2 L453.3 247.3 L458.9 250.9 L464.6 253.0 L469.5 251.6 M445.5 242.0 L448.3 245.2 M448.3 245.2 L445.5 248.0 L443.3 250.2 L441.2 252.7 M512.5 218.3 L510.0 221.7 L513.3 223.3 L520.0 222.5 L525.8 220.8 L530.0 217.5 L528.3 216.3 M510.0 221.7 L508.3 225.8 L510.8 228.3 L515.8 229.2 M513.3 223.3 L515.8 225.0 L520.0 225.8 L523.3 230.8 M530.0 235.8 L529.2 239.2 L525.8 240.0 L524.2 243.3 L526.7 247.5 L525.0 252.5 L522.5 255.8 L519.2 259.2 L521.7 261.7 L520.8 265.0 L517.5 265.8 M523.3 231.3 L527.5 233.7 L530.0 235.8 M530.0 235.8 L533.3 237.5 L535.8 240.8 L536.7 245.0 L540.0 249.2 L541.7 250.8 L544.2 250.0 L550.0 252.5 L555.8 255.0 L560.0 255.8 L561.7 255.8 L566.7 255.3 L568.3 257.5 L573.3 253.3 L577.5 252.5 L580.0 255.8 M541.7 250.8 L542.5 254.2 L546.7 255.8 L553.3 258.3 L559.7 259.2 L560.0 255.8 M561.7 255.8 L563.3 258.7 L568.3 257.5 M560.8 260.8 L563.3 263.3 L566.7 263.3 L569.2 265.8 L570.0 270.0 M560.8 260.8 L561.7 265.8 L562.5 270.0 L565.0 271.7 M568.3 257.5 L566.7 260.8 L570.0 264.2 L572.5 267.5 M440.5 242.7 L441.2 246.3 L441.2 252.6 M468.1 251.2 L471.0 250.5 M480.2 267.5 L487.3 270.3 L488.7 273.9 L487.3 276.7 L480.2 279.5 M487.3 270.3 L488.0 268.9 L488.7 265.4 L489.4 261.1 M500.7 263.3 L501.4 261.1 L504.3 259.0 L502.1 254.0 L500.0 251.9 M589.0 270.0 L593.0 270.0 L597.0 269.0 L600.0 271.0 L603.0 270.0 L607.0 273.0 M600.0 271.0 L603.0 277.0 L602.0 280.0 L606.0 285.0 L608.0 289.0 L607.0 292.0 M591.0 273.0 L594.0 275.0 L592.0 279.0 L595.0 282.0 L599.0 281.0 L602.0 285.0 L603.0 289.0 L607.0 292.0 M603.0 289.0 L599.0 290.0 L596.0 292.0 L594.0 295.0 M607.0 292.0 L608.0 296.0 L605.0 299.0 L603.0 302.4 M596.0 313.0 L599.0 314.0 M619.0 323.0 L624.0 325.0 L629.0 322.0 L633.0 318.0 L636.0 315.6 M150.0 201.3 L171.3 201.3 L172.7 202.0 L178.3 203.4 L184.0 203.4 L188.3 206.2 L191.8 209.8 L191.1 214.0 L188.3 219.0 L189.7 220.0 L196.8 216.1 L203.8 214.0 L209.5 211.9 L214.5 210.0 L219.4 208.3 L221.6 206.9 L223.7 206.9 L224.4 210.0 L226.2 211.5 M152.5 291.2 L153.5 288.0 L155.5 286.5 L155.5 283.5 L159.5 283.0 L160.0 286.5 L161.0 286.5 M159.5 283.0 L161.0 281.5 L162.5 280.5 M161.0 287.5 L159.5 290.0 L158.0 291.5 L156.5 292.5 L155.5 293.0 M158.0 291.5 L160.5 292.5 L162.5 293.5 L164.0 294.0 M173.0 304.5 L172.5 307.0"/>
</g>
<rect x="98.5" y="537.5" width="48" height="11" fill="url(#hatch)" stroke="#cfcfcf" stroke-width="0.9"/>
<line x1="122.5" y1="534" x2="122.5" y2="538" stroke="#999" stroke-width="1"/>
<rect x="166.0" y="537.5" width="58.5" height="11" fill="#662506" stroke="#000" stroke-opacity="0.14" stroke-width="0.6"/>
<rect x="224.5" y="537.5" width="58.5" height="11" fill="#802d05" stroke="#000" stroke-opacity="0.14" stroke-width="0.6"/>
<rect x="283.0" y="537.5" width="58.5" height="11" fill="#993404" stroke="#000" stroke-opacity="0.14" stroke-width="0.6"/>
<rect x="341.5" y="537.5" width="58.5" height="11" fill="#cc4c02" stroke="#000" stroke-opacity="0.14" stroke-width="0.6"/>
<rect x="400.0" y="537.5" width="58.5" height="11" fill="#ec7014" stroke="#000" stroke-opacity="0.14" stroke-width="0.6"/>
<rect x="458.5" y="537.5" width="58.5" height="11" fill="#fe9929" stroke="#000" stroke-opacity="0.14" stroke-width="0.6"/>
<rect x="517.0" y="537.5" width="58.5" height="11" fill="#fec44f" stroke="#000" stroke-opacity="0.14" stroke-width="0.6"/>
<rect x="575.5" y="537.5" width="58.5" height="11" fill="#fee391" stroke="#000" stroke-opacity="0.14" stroke-width="0.6"/>
<rect x="634.0" y="537.5" width="58.5" height="11" fill="#fff7bc" stroke="#000" stroke-opacity="0.14" stroke-width="0.6"/>
<rect x="692.5" y="537.5" width="58.5" height="11" fill="#ffffe5" stroke="#000" stroke-opacity="0.14" stroke-width="0.6"/>
<line x1="166.0" y1="534" x2="166.0" y2="548.5" stroke="#8e8e8e" stroke-opacity="0.8" stroke-width="0.8"/>
<line x1="224.5" y1="534" x2="224.5" y2="548.5" stroke="#8e8e8e" stroke-opacity="0.8" stroke-width="0.8"/>
<line x1="283.0" y1="534" x2="283.0" y2="548.5" stroke="#8e8e8e" stroke-opacity="0.8" stroke-width="0.8"/>
<line x1="341.5" y1="534" x2="341.5" y2="548.5" stroke="#8e8e8e" stroke-opacity="0.8" stroke-width="0.8"/>
<line x1="400.0" y1="534" x2="400.0" y2="548.5" stroke="#8e8e8e" stroke-opacity="0.8" stroke-width="0.8"/>
<line x1="458.5" y1="534" x2="458.5" y2="548.5" stroke="#8e8e8e" stroke-opacity="0.8" stroke-width="0.8"/>
<line x1="517.0" y1="534" x2="517.0" y2="548.5" stroke="#8e8e8e" stroke-opacity="0.8" stroke-width="0.8"/>
<line x1="575.5" y1="534" x2="575.5" y2="548.5" stroke="#8e8e8e" stroke-opacity="0.8" stroke-width="0.8"/>
<line x1="634.0" y1="534" x2="634.0" y2="548.5" stroke="#8e8e8e" stroke-opacity="0.8" stroke-width="0.8"/>
<line x1="692.5" y1="534" x2="692.5" y2="548.5" stroke="#8e8e8e" stroke-opacity="0.8" stroke-width="0.8"/>
<line x1="751.0" y1="534" x2="751.0" y2="548.5" stroke="#8e8e8e" stroke-opacity="0.8" stroke-width="0.8"/>
</svg>
<div class="lg" style="left:166.0px">0%</div>
<div class="lg" style="left:224.5px">10%</div>
<div class="lg" style="left:283.0px">20%</div>
<div class="lg" style="left:341.5px">30%</div>
<div class="lg" style="left:400.0px">40%</div>
<div class="lg" style="left:458.5px">50%</div>
<div class="lg" style="left:517.0px">60%</div>
<div class="lg" style="left:575.5px">70%</div>
<div class="lg" style="left:634.0px">80%</div>
<div class="lg" style="left:692.5px">90%</div>
<div class="lg" style="left:751.0px">100%</div>
<div class="lg" style="left:122.5px">No data</div>
<div id="foot1"><b>Data source:</b> Data compiled from multiple sources by World Bank</div>
<div id="foot2">OurWorldinData.org/energy | CC BY</div>
</body></html>
